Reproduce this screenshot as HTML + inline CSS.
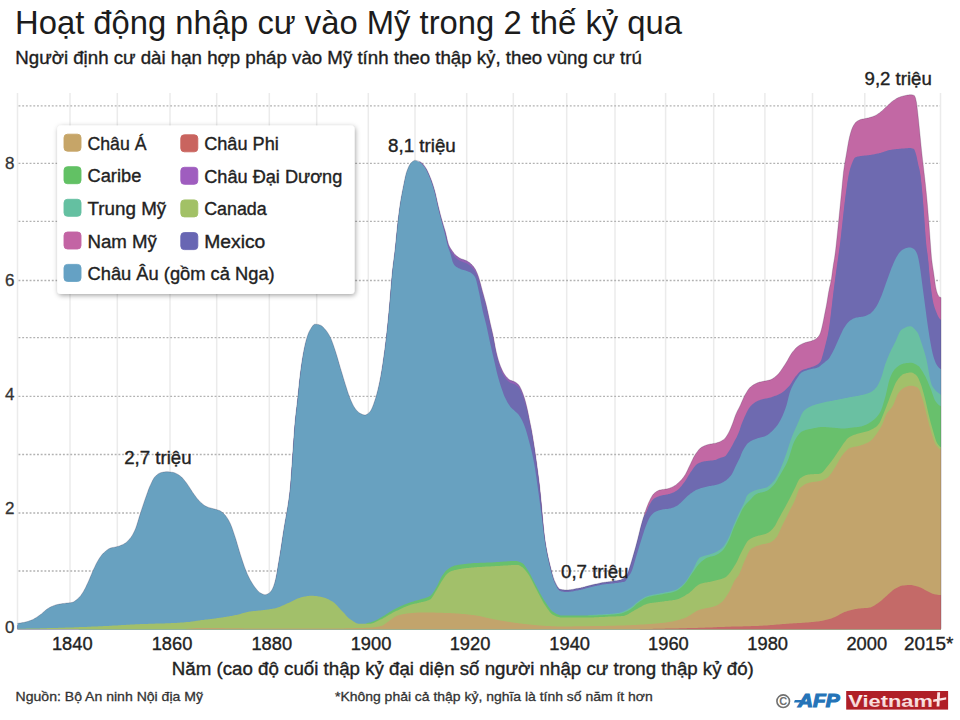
<!DOCTYPE html>
<html lang="vi">
<head>
<meta charset="utf-8">
<title>Hoạt động nhập cư vào Mỹ trong 2 thế kỷ qua</title>
<style>
html,body{margin:0;padding:0;background:#fff;}
body{width:960px;height:720px;overflow:hidden;position:relative;font-family:"Liberation Sans","DejaVu Sans",sans-serif;}
svg{position:absolute;left:0;top:0;display:block;}
svg text{font-family:"Liberation Sans","DejaVu Sans",sans-serif;}
.k{stroke:#222;stroke-width:0.35px;}
.k2{stroke:#333;stroke-width:0.3px;}
</style>
</head>
<body>
<svg width="960" height="720" viewBox="0 0 960 720">
<defs>
<filter id="sh" x="-10%" y="-15%" width="125%" height="135%">
<feDropShadow dx="1" dy="1.5" stdDeviation="2.8" flood-color="#000" flood-opacity="0.36"/>
</filter>
<linearGradient id="vg" x1="0" y1="0" x2="0" y2="1"><stop offset="0" stop-color="#ffffff"/><stop offset="1" stop-color="#f2c4c4"/></linearGradient>
</defs>
<rect width="960" height="720" fill="#fff"/>
<!-- title -->
<text x="15" y="33.8" font-size="33" fill="#1c1c1c" textLength="667" lengthAdjust="spacingAndGlyphs">Hoạt động nhập cư vào Mỹ trong 2 thế kỷ qua</text>
<text class="k" x="15.3" y="64" font-size="18" fill="#1c1c1c" textLength="626.5" lengthAdjust="spacingAndGlyphs">Người định cư dài hạn hợp pháp vào Mỹ tính theo thập kỷ, theo vùng cư trú</text>
<!-- grid -->
<g stroke="#ebebeb" stroke-width="1.5">
<line x1="70" y1="93" x2="70" y2="629"/>
<line x1="117.3" y1="93" x2="117.3" y2="629"/>
<line x1="170" y1="93" x2="170" y2="629"/>
<line x1="216.7" y1="93" x2="216.7" y2="629"/>
<line x1="269.3" y1="93" x2="269.3" y2="629"/>
<line x1="316.7" y1="93" x2="316.7" y2="629"/>
<line x1="368.3" y1="93" x2="368.3" y2="629"/>
<line x1="415" y1="93" x2="415" y2="629"/>
<line x1="466.7" y1="93" x2="466.7" y2="629"/>
<line x1="513.3" y1="93" x2="513.3" y2="629"/>
<line x1="566.7" y1="93" x2="566.7" y2="629"/>
<line x1="615" y1="93" x2="615" y2="629"/>
<line x1="665.6" y1="93" x2="665.6" y2="629"/>
<line x1="713.7" y1="93" x2="713.7" y2="629"/>
<line x1="764.9" y1="93" x2="764.9" y2="629"/>
<line x1="812.5" y1="93" x2="812.5" y2="629"/>
<line x1="864.8" y1="93" x2="864.8" y2="629"/>
<line x1="17.5" y1="93" x2="17.5" y2="629"/>
<line x1="940.5" y1="93" x2="940.5" y2="629"/>
</g>
<g stroke="#b2b2b2" stroke-width="1.3" stroke-dasharray="1.9 1.8">
<line x1="18.5" y1="571" x2="940" y2="571"/>
<line x1="18.5" y1="513" x2="940" y2="513"/>
<line x1="18.5" y1="454.5" x2="940" y2="454.5"/>
<line x1="18.5" y1="396.3" x2="940" y2="396.3"/>
<line x1="18.5" y1="337.6" x2="940" y2="337.6"/>
<line x1="18.5" y1="280.5" x2="940" y2="280.5"/>
<line x1="18.5" y1="221.4" x2="940" y2="221.4"/>
<line x1="18.5" y1="163.3" x2="940" y2="163.3"/>
<line x1="18.5" y1="105.8" x2="940" y2="105.8"/>
</g>
<!-- chart -->
<g>
<path d="M17.5,629.3 L17.5,625.3 18.5,625.2 19.5,625.1 20.5,625.0 21.5,624.8 22.5,624.6 23.5,624.5 24.5,624.3 25.5,624.0 26.5,623.8 27.5,623.5 28.5,623.2 29.5,622.8 30.5,622.5 31.5,622.1 32.5,621.7 33.5,621.2 34.5,620.6 35.5,620.0 36.5,619.4 37.5,618.7 38.5,618.0 39.5,617.3 40.5,616.6 41.5,615.9 42.5,615.0 43.5,614.1 44.5,613.2 45.5,612.3 46.5,611.5 47.5,610.8 48.5,610.2 49.5,609.6 50.5,609.1 51.5,608.6 52.5,608.2 53.5,607.7 54.5,607.4 55.5,607.0 56.5,606.7 57.5,606.5 58.5,606.3 59.5,606.1 60.5,605.9 61.5,605.8 62.5,605.6 63.5,605.5 64.5,605.4 65.5,605.2 66.5,605.1 67.5,605.0 68.5,604.9 69.5,604.8 70.5,604.7 71.5,604.5 72.5,604.3 73.5,603.9 74.5,603.3 75.5,602.6 76.5,601.8 77.5,601.0 78.5,600.1 79.5,599.1 80.5,597.9 81.5,596.5 82.5,595.0 83.5,593.4 84.5,591.6 85.5,589.7 86.5,587.6 87.5,585.4 88.5,583.3 89.5,581.0 90.5,578.6 91.5,576.2 92.5,573.8 93.5,571.6 94.5,569.4 95.5,567.3 96.5,565.2 97.5,563.4 98.5,561.7 99.5,560.1 100.5,558.7 101.5,557.3 102.5,556.1 103.5,555.1 104.5,554.2 105.5,553.3 106.5,552.4 107.5,551.7 108.5,551.0 109.5,550.5 110.5,550.1 111.5,549.8 112.5,549.6 113.5,549.4 114.5,549.2 115.5,549.0 116.5,548.8 117.5,548.5 118.5,548.2 119.5,547.9 120.5,547.5 121.5,547.1 122.5,546.7 123.5,546.2 124.5,545.6 125.5,545.0 126.5,544.2 127.5,543.3 128.5,542.2 129.5,541.1 130.5,539.9 131.5,538.5 132.5,536.9 133.5,535.1 134.5,533.1 135.5,530.8 136.5,528.0 137.5,524.8 138.5,521.4 139.5,518.1 140.5,515.0 141.5,511.9 142.5,508.9 143.5,505.9 144.5,502.9 145.5,500.1 146.5,497.2 147.5,494.4 148.5,491.6 149.5,489.1 150.5,486.9 151.5,484.7 152.5,482.6 153.5,480.8 154.5,479.3 155.5,478.2 156.5,477.2 157.5,476.4 158.5,475.7 159.5,475.2 160.5,474.8 161.5,474.5 162.5,474.3 163.5,474.1 164.5,473.9 165.5,473.8 166.5,473.7 167.5,473.7 168.5,473.8 169.5,473.9 170.5,474.0 171.5,474.2 172.5,474.3 173.5,474.5 174.5,474.8 175.5,475.2 176.5,475.7 177.5,476.2 178.5,476.8 179.5,477.5 180.5,478.2 181.5,479.0 182.5,480.1 183.5,481.2 184.5,482.5 185.5,483.7 186.5,485.0 187.5,486.4 188.5,487.9 189.5,489.4 190.5,491.0 191.5,492.6 192.5,494.2 193.5,495.6 194.5,497.0 195.5,498.3 196.5,499.7 197.5,500.9 198.5,502.1 199.5,503.2 200.5,504.2 201.5,505.1 202.5,505.9 203.5,506.7 204.5,507.5 205.5,508.1 206.5,508.6 207.5,509.0 208.5,509.4 209.5,509.7 210.5,509.9 211.5,510.2 212.5,510.5 213.5,510.8 214.5,511.0 215.5,511.3 216.5,511.6 217.5,511.9 218.5,512.2 219.5,512.6 220.5,513.1 221.5,513.7 222.5,514.5 223.5,515.4 224.5,516.5 225.5,517.6 226.5,518.9 227.5,520.4 228.5,522.1 229.5,524.0 230.5,526.1 231.5,528.5 232.5,531.2 233.5,534.2 234.5,537.2 235.5,540.2 236.5,543.5 237.5,546.9 238.5,550.3 239.5,553.7 240.5,556.9 241.5,560.0 242.5,563.1 243.5,566.1 244.5,569.0 245.5,571.6 246.5,574.1 247.5,576.4 248.5,578.6 249.5,580.6 250.5,582.4 251.5,584.1 252.5,585.8 253.5,587.3 254.5,588.7 255.5,590.0 256.5,591.2 257.5,592.4 258.5,593.4 259.5,594.4 260.5,595.0 261.5,595.6 262.5,596.1 263.5,596.4 264.5,596.7 265.5,596.7 266.5,596.4 267.5,596.0 268.5,595.5 269.5,594.9 270.5,593.8 271.5,592.4 272.5,590.8 273.5,588.5 274.5,585.5 275.5,581.8 276.5,577.0 277.5,571.1 278.5,565.0 279.5,559.2 280.5,553.1 281.5,546.6 282.5,539.8 283.5,533.2 284.5,527.0 285.5,521.2 286.5,515.8 287.5,510.0 288.5,503.6 289.5,496.3 290.5,486.7 291.5,473.3 292.5,459.0 293.5,444.4 294.5,430.0 295.5,419.0 296.5,410.5 297.5,402.0 298.5,392.2 299.5,382.3 300.5,374.0 301.5,366.6 302.5,359.9 303.5,354.2 304.5,349.2 305.5,344.7 306.5,341.0 307.5,337.8 308.5,335.1 309.5,332.9 310.5,331.2 311.5,329.6 312.5,328.1 313.5,326.9 314.5,326.3 315.5,326.2 316.5,326.3 317.5,326.4 318.5,326.6 319.5,326.9 320.5,327.2 321.5,327.8 322.5,328.6 323.5,329.6 324.5,330.7 325.5,331.8 326.5,333.0 327.5,334.4 328.5,336.0 329.5,337.8 330.5,339.7 331.5,342.0 332.5,344.7 333.5,347.6 334.5,350.5 335.5,353.5 336.5,356.7 337.5,360.1 338.5,363.6 339.5,367.0 340.5,370.4 341.5,373.7 342.5,377.1 343.5,380.4 344.5,383.7 345.5,386.9 346.5,390.1 347.5,393.3 348.5,396.3 349.5,399.0 350.5,401.5 351.5,403.8 352.5,406.0 353.5,407.9 354.5,409.6 355.5,411.0 356.5,412.2 357.5,413.3 358.5,414.3 359.5,415.0 360.5,415.6 361.5,416.0 362.5,416.5 363.5,416.8 364.5,417.0 365.5,417.0 366.5,416.6 367.5,416.0 368.5,415.2 369.5,414.2 370.5,413.1 371.5,411.3 372.5,409.1 373.5,406.4 374.5,403.5 375.5,400.5 376.5,397.0 377.5,393.2 378.5,389.0 379.5,384.4 380.5,379.4 381.5,373.7 382.5,367.4 383.5,360.6 384.5,353.4 385.5,345.5 386.5,337.1 387.5,327.8 388.5,317.7 389.5,307.0 390.5,295.0 391.5,282.7 392.5,272.0 393.5,263.7 394.5,256.2 395.5,247.3 396.5,236.9 397.5,227.0 398.5,218.3 399.5,210.5 400.5,203.8 401.5,198.0 402.5,192.7 403.5,187.7 404.5,182.7 405.5,178.1 406.5,174.3 407.5,171.5 408.5,169.1 409.5,167.1 410.5,165.6 411.5,164.6 412.5,163.6 413.5,162.8 414.5,162.4 415.5,162.3 416.5,162.5 417.5,162.7 418.5,163.1 419.5,163.5 420.5,164.0 421.5,164.7 422.5,165.6 423.5,166.8 424.5,168.0 425.5,169.4 426.5,171.1 427.5,173.0 428.5,175.2 429.5,177.5 430.5,179.9 431.5,182.6 432.5,185.4 433.5,188.5 434.5,191.9 435.5,195.7 436.5,200.2 437.5,204.8 438.5,209.0 439.5,213.0 440.5,216.9 441.5,220.6 442.5,224.1 443.5,227.4 444.5,230.7 445.5,234.1 446.5,238.2 447.5,242.7 448.5,246.3 449.5,248.6 450.5,250.3 451.5,251.8 452.5,253.2 453.5,254.6 454.5,255.9 455.5,256.9 456.5,257.8 457.5,258.6 458.5,259.3 459.5,259.9 460.5,260.4 461.5,260.9 462.5,261.2 463.5,261.6 464.5,261.9 465.5,262.3 466.5,262.7 467.5,263.3 468.5,263.9 469.5,264.6 470.5,265.4 471.5,266.3 472.5,267.4 473.5,268.6 474.5,270.0 475.5,271.6 476.5,273.7 477.5,276.1 478.5,278.8 479.5,281.9 480.5,285.5 481.5,289.4 482.5,293.2 483.5,296.8 484.5,300.4 485.5,304.1 486.5,308.0 487.5,312.4 488.5,317.1 489.5,321.7 490.5,326.2 491.5,330.4 492.5,334.7 493.5,339.5 494.5,345.0 495.5,350.5 496.5,355.0 497.5,359.0 498.5,362.5 499.5,365.6 500.5,368.3 501.5,370.6 502.5,372.8 503.5,374.7 504.5,376.3 505.5,377.7 506.5,378.9 507.5,380.0 508.5,380.9 509.5,381.7 510.5,382.3 511.5,382.6 512.5,383.0 513.5,383.3 514.5,383.7 515.5,384.2 516.5,384.9 517.5,385.7 518.5,386.7 519.5,388.0 520.5,389.9 521.5,392.1 522.5,394.5 523.5,397.2 524.5,400.3 525.5,403.8 526.5,407.7 527.5,412.0 528.5,416.8 529.5,421.9 530.5,426.7 531.5,431.7 532.5,437.4 533.5,443.7 534.5,450.1 535.5,456.8 536.5,463.9 537.5,471.5 538.5,479.0 539.5,487.0 540.5,496.5 541.5,507.0 542.5,518.5 543.5,529.0 544.5,538.2 545.5,545.2 546.5,551.1 547.5,556.2 548.5,560.8 549.5,565.0 550.5,569.0 551.5,572.9 552.5,576.6 553.5,579.8 554.5,582.6 555.5,584.7 556.5,586.8 557.5,588.6 558.5,590.1 559.5,591.0 560.5,591.3 561.5,591.5 562.5,591.7 563.5,591.8 564.5,591.9 565.5,592.0 566.5,592.0 567.5,592.0 568.5,591.9 569.5,591.8 570.5,591.7 571.5,591.6 572.5,591.4 573.5,591.2 574.5,591.0 575.5,590.8 576.5,590.6 577.5,590.4 578.5,590.3 579.5,590.1 580.5,589.9 581.5,589.6 582.5,589.4 583.5,589.1 584.5,588.9 585.5,588.6 586.5,588.3 587.5,588.1 588.5,587.8 589.5,587.5 590.5,587.3 591.5,587.0 592.5,586.8 593.5,586.6 594.5,586.3 595.5,586.1 596.5,585.9 597.5,585.7 598.5,585.4 599.5,585.2 600.5,585.0 601.5,584.8 602.5,584.6 603.5,584.5 604.5,584.3 605.5,584.2 606.5,584.0 607.5,583.9 608.5,583.8 609.5,583.7 610.5,583.5 611.5,583.4 612.5,583.2 613.5,583.1 614.5,583.0 615.5,582.8 616.5,582.7 617.5,582.5 618.5,582.3 619.5,582.1 620.5,581.9 621.5,581.5 622.5,581.1 623.5,580.5 624.5,579.8 625.5,579.0 626.5,577.9 627.5,575.9 628.5,573.0 629.5,569.8 630.5,566.7 631.5,563.5 632.5,560.1 633.5,556.6 634.5,553.1 635.5,549.5 636.5,545.8 637.5,542.0 638.5,538.0 639.5,533.9 640.5,529.8 641.5,526.1 642.5,522.6 643.5,519.2 644.5,514.0 645.5,511.0 646.5,508.1 647.5,505.5 648.5,503.0 649.5,500.9 650.5,498.8 651.5,496.9 652.5,495.3 653.5,494.0 654.5,493.1 655.5,492.3 656.5,491.6 657.5,491.0 658.5,490.5 659.5,490.1 660.5,489.9 661.5,489.7 662.5,489.5 663.5,489.4 664.5,489.3 665.5,489.1 666.5,489.0 667.5,488.8 668.5,488.5 669.5,488.2 670.5,487.8 671.5,487.4 672.5,486.9 673.5,486.4 674.5,485.8 675.5,485.2 676.5,484.4 677.5,483.6 678.5,482.7 679.5,481.7 680.5,480.7 681.5,479.7 682.5,478.5 683.5,477.2 684.5,475.8 685.5,474.2 686.5,472.3 687.5,470.3 688.5,468.1 689.5,466.0 690.5,464.0 691.5,461.8 692.5,459.7 693.5,457.6 694.5,455.8 695.5,454.2 696.5,452.8 697.5,451.4 698.5,450.1 699.5,449.0 700.5,448.0 701.5,447.3 702.5,446.8 703.5,446.3 704.5,445.8 705.5,445.4 706.5,445.1 707.5,444.7 708.5,444.5 709.5,444.2 710.5,444.0 711.5,443.9 712.5,443.7 713.5,443.6 714.5,443.4 715.5,443.2 716.5,442.9 717.5,442.6 718.5,442.3 719.5,441.9 720.5,441.4 721.5,440.9 722.5,440.3 723.5,439.7 724.5,438.9 725.5,437.7 726.5,436.3 727.5,434.7 728.5,432.9 729.5,431.0 730.5,428.8 731.5,426.3 732.5,423.8 733.5,421.0 734.5,418.0 735.5,415.2 736.5,412.9 737.5,410.8 738.5,408.9 739.5,407.0 740.5,404.9 741.5,402.6 742.5,400.3 743.5,398.0 744.5,395.9 745.5,394.1 746.5,392.4 747.5,390.7 748.5,389.3 749.5,388.0 750.5,387.0 751.5,386.2 752.5,385.5 753.5,384.8 754.5,384.3 755.5,383.7 756.5,383.3 757.5,382.8 758.5,382.5 759.5,382.1 760.5,381.9 761.5,381.7 762.5,381.5 763.5,381.3 764.5,381.1 765.5,380.9 766.5,380.7 767.5,380.5 768.5,380.3 769.5,380.1 770.5,379.8 771.5,379.3 772.5,378.8 773.5,378.1 774.5,377.4 775.5,376.6 776.5,375.8 777.5,374.8 778.5,373.8 779.5,372.6 780.5,371.2 781.5,369.7 782.5,368.3 783.5,366.8 784.5,365.2 785.5,363.7 786.5,362.1 787.5,360.4 788.5,358.6 789.5,356.8 790.5,355.1 791.5,353.5 792.5,352.1 793.5,350.9 794.5,349.7 795.5,348.6 796.5,347.6 797.5,346.7 798.5,346.0 799.5,345.3 800.5,344.7 801.5,344.2 802.5,343.7 803.5,343.3 804.5,342.9 805.5,342.5 806.5,342.3 807.5,342.0 808.5,341.8 809.5,341.6 810.5,341.3 811.5,341.0 812.5,340.6 813.5,340.2 814.5,339.7 815.5,339.2 816.5,338.5 817.5,337.6 818.5,336.5 819.5,334.9 820.5,332.8 821.5,329.2 822.5,325.0 823.5,320.2 824.5,315.0 825.5,310.1 826.5,305.0 827.5,299.0 828.5,292.8 829.5,287.7 830.5,283.6 831.5,278.5 832.5,270.7 833.5,263.9 834.5,258.3 835.5,251.1 836.5,242.0 837.5,232.4 838.5,222.5 839.5,212.5 840.5,202.5 841.5,192.4 842.5,181.7 843.5,172.0 844.5,164.9 845.5,159.2 846.5,153.5 847.5,147.5 848.5,141.8 849.5,137.1 850.5,133.3 851.5,130.0 852.5,127.5 853.5,125.6 854.5,123.9 855.5,122.6 856.5,121.7 857.5,121.0 858.5,120.5 859.5,120.0 860.5,119.6 861.5,119.3 862.5,119.1 863.5,118.9 864.5,118.7 865.5,118.5 866.5,118.3 867.5,118.1 868.5,117.9 869.5,117.6 870.5,117.3 871.5,117.0 872.5,116.7 873.5,116.3 874.5,115.9 875.5,115.4 876.5,114.9 877.5,114.2 878.5,113.6 879.5,112.9 880.5,112.1 881.5,111.3 882.5,110.4 883.5,109.5 884.5,108.5 885.5,107.6 886.5,106.7 887.5,105.7 888.5,104.8 889.5,103.8 890.5,102.9 891.5,102.0 892.5,101.2 893.5,100.5 894.5,99.9 895.5,99.2 896.5,98.6 897.5,98.1 898.5,97.6 899.5,97.2 900.5,96.8 901.5,96.5 902.5,96.2 903.5,95.9 904.5,95.7 905.5,95.5 906.5,95.3 907.5,95.1 908.5,95.0 909.5,94.8 910.5,94.8 911.5,94.8 912.5,94.9 913.5,95.2 914.5,95.7 915.5,98.1 916.5,102.6 917.5,110.7 918.5,120.0 919.5,130.0 920.5,140.1 921.5,150.2 922.5,159.4 923.5,167.7 924.5,176.3 925.5,185.2 926.5,195.1 927.5,206.1 928.5,218.2 929.5,231.3 930.5,245.1 931.5,258.0 932.5,265.8 933.5,272.1 934.5,279.2 935.5,286.2 936.5,290.9 937.5,294.0 938.5,296.0 939.5,296.9 940.5,297.4 941.0,297.5 L941.0,629.3 Z" fill="#c268a4"/>
<path d="M17.5,629.3 L17.5,625.3 18.5,625.2 19.5,625.1 20.5,625.0 21.5,624.8 22.5,624.6 23.5,624.5 24.5,624.3 25.5,624.0 26.5,623.8 27.5,623.5 28.5,623.2 29.5,622.8 30.5,622.5 31.5,622.1 32.5,621.7 33.5,621.2 34.5,620.6 35.5,620.0 36.5,619.4 37.5,618.7 38.5,618.0 39.5,617.3 40.5,616.6 41.5,615.9 42.5,615.0 43.5,614.1 44.5,613.2 45.5,612.3 46.5,611.5 47.5,610.8 48.5,610.2 49.5,609.6 50.5,609.1 51.5,608.6 52.5,608.2 53.5,607.7 54.5,607.4 55.5,607.0 56.5,606.7 57.5,606.5 58.5,606.3 59.5,606.1 60.5,605.9 61.5,605.8 62.5,605.6 63.5,605.5 64.5,605.4 65.5,605.2 66.5,605.1 67.5,605.0 68.5,604.9 69.5,604.8 70.5,604.7 71.5,604.5 72.5,604.3 73.5,603.9 74.5,603.3 75.5,602.6 76.5,601.8 77.5,601.0 78.5,600.1 79.5,599.1 80.5,597.9 81.5,596.5 82.5,595.0 83.5,593.4 84.5,591.6 85.5,589.7 86.5,587.6 87.5,585.4 88.5,583.3 89.5,581.0 90.5,578.6 91.5,576.2 92.5,573.8 93.5,571.6 94.5,569.4 95.5,567.3 96.5,565.2 97.5,563.4 98.5,561.7 99.5,560.1 100.5,558.7 101.5,557.3 102.5,556.1 103.5,555.1 104.5,554.2 105.5,553.3 106.5,552.4 107.5,551.7 108.5,551.0 109.5,550.5 110.5,550.1 111.5,549.8 112.5,549.6 113.5,549.4 114.5,549.2 115.5,549.0 116.5,548.8 117.5,548.5 118.5,548.2 119.5,547.9 120.5,547.5 121.5,547.1 122.5,546.7 123.5,546.2 124.5,545.6 125.5,545.0 126.5,544.2 127.5,543.3 128.5,542.2 129.5,541.1 130.5,539.9 131.5,538.5 132.5,536.9 133.5,535.1 134.5,533.1 135.5,530.8 136.5,528.0 137.5,524.8 138.5,521.4 139.5,518.1 140.5,515.0 141.5,511.9 142.5,508.9 143.5,505.9 144.5,502.9 145.5,500.1 146.5,497.2 147.5,494.4 148.5,491.6 149.5,489.1 150.5,486.9 151.5,484.7 152.5,482.6 153.5,480.8 154.5,479.3 155.5,478.2 156.5,477.2 157.5,476.4 158.5,475.7 159.5,475.2 160.5,474.8 161.5,474.5 162.5,474.3 163.5,474.1 164.5,473.9 165.5,473.8 166.5,473.7 167.5,473.7 168.5,473.8 169.5,473.9 170.5,474.0 171.5,474.2 172.5,474.3 173.5,474.5 174.5,474.8 175.5,475.2 176.5,475.7 177.5,476.2 178.5,476.8 179.5,477.5 180.5,478.2 181.5,479.0 182.5,480.1 183.5,481.2 184.5,482.5 185.5,483.7 186.5,485.0 187.5,486.4 188.5,487.9 189.5,489.4 190.5,491.0 191.5,492.6 192.5,494.2 193.5,495.6 194.5,497.0 195.5,498.3 196.5,499.7 197.5,500.9 198.5,502.1 199.5,503.2 200.5,504.2 201.5,505.1 202.5,505.9 203.5,506.7 204.5,507.5 205.5,508.1 206.5,508.6 207.5,509.0 208.5,509.4 209.5,509.7 210.5,509.9 211.5,510.2 212.5,510.5 213.5,510.8 214.5,511.0 215.5,511.3 216.5,511.6 217.5,511.9 218.5,512.2 219.5,512.6 220.5,513.1 221.5,513.7 222.5,514.5 223.5,515.4 224.5,516.5 225.5,517.6 226.5,518.9 227.5,520.4 228.5,522.1 229.5,524.0 230.5,526.1 231.5,528.5 232.5,531.2 233.5,534.2 234.5,537.2 235.5,540.2 236.5,543.5 237.5,546.9 238.5,550.3 239.5,553.7 240.5,556.9 241.5,560.0 242.5,563.1 243.5,566.1 244.5,569.0 245.5,571.6 246.5,574.1 247.5,576.4 248.5,578.6 249.5,580.6 250.5,582.4 251.5,584.1 252.5,585.8 253.5,587.3 254.5,588.7 255.5,590.0 256.5,591.2 257.5,592.4 258.5,593.4 259.5,594.4 260.5,595.0 261.5,595.6 262.5,596.1 263.5,596.4 264.5,596.7 265.5,596.7 266.5,596.4 267.5,596.0 268.5,595.5 269.5,594.9 270.5,593.8 271.5,592.4 272.5,590.8 273.5,588.5 274.5,585.5 275.5,581.8 276.5,577.0 277.5,571.1 278.5,565.0 279.5,559.2 280.5,553.1 281.5,546.6 282.5,539.8 283.5,533.2 284.5,527.0 285.5,521.2 286.5,515.8 287.5,510.0 288.5,503.6 289.5,496.3 290.5,486.7 291.5,473.3 292.5,459.0 293.5,444.4 294.5,430.0 295.5,419.0 296.5,410.5 297.5,402.0 298.5,392.2 299.5,382.3 300.5,374.0 301.5,366.6 302.5,359.9 303.5,354.2 304.5,349.2 305.5,344.7 306.5,341.0 307.5,337.8 308.5,335.1 309.5,332.9 310.5,331.2 311.5,329.6 312.5,328.1 313.5,326.9 314.5,326.3 315.5,326.2 316.5,326.3 317.5,326.4 318.5,326.6 319.5,326.9 320.5,327.2 321.5,327.8 322.5,328.6 323.5,329.6 324.5,330.7 325.5,331.8 326.5,333.0 327.5,334.4 328.5,336.0 329.5,337.8 330.5,339.7 331.5,342.0 332.5,344.7 333.5,347.6 334.5,350.5 335.5,353.5 336.5,356.7 337.5,360.1 338.5,363.6 339.5,367.0 340.5,370.4 341.5,373.7 342.5,377.1 343.5,380.4 344.5,383.7 345.5,386.9 346.5,390.1 347.5,393.3 348.5,396.3 349.5,399.0 350.5,401.5 351.5,403.8 352.5,406.0 353.5,407.9 354.5,409.6 355.5,411.0 356.5,412.2 357.5,413.3 358.5,414.3 359.5,415.0 360.5,415.6 361.5,416.0 362.5,416.5 363.5,416.8 364.5,417.0 365.5,417.0 366.5,416.6 367.5,416.0 368.5,415.2 369.5,414.2 370.5,413.1 371.5,411.3 372.5,409.1 373.5,406.4 374.5,403.5 375.5,400.5 376.5,397.0 377.5,393.2 378.5,389.0 379.5,384.4 380.5,379.4 381.5,373.7 382.5,367.4 383.5,360.6 384.5,353.4 385.5,345.5 386.5,337.1 387.5,327.8 388.5,317.7 389.5,307.0 390.5,295.0 391.5,282.7 392.5,272.0 393.5,263.7 394.5,256.2 395.5,247.3 396.5,236.9 397.5,227.0 398.5,218.3 399.5,210.5 400.5,203.8 401.5,198.0 402.5,192.7 403.5,187.7 404.5,182.7 405.5,178.1 406.5,174.3 407.5,171.5 408.5,169.1 409.5,167.1 410.5,165.6 411.5,164.6 412.5,163.6 413.5,162.8 414.5,162.4 415.5,162.3 416.5,162.5 417.5,162.7 418.5,163.1 419.5,161.5 420.5,162.0 421.5,162.7 422.5,163.6 423.5,164.8 424.5,166.0 425.5,167.4 426.5,169.1 427.5,171.0 428.5,173.2 429.5,175.5 430.5,177.9 431.5,180.6 432.5,183.4 433.5,186.5 434.5,189.9 435.5,193.7 436.5,198.2 437.5,202.8 438.5,207.0 439.5,211.0 440.5,214.9 441.5,218.6 442.5,222.1 443.5,225.4 444.5,228.7 445.5,232.1 446.5,236.2 447.5,240.7 448.5,244.3 449.5,246.6 450.5,248.3 451.5,249.8 452.5,251.2 453.5,252.6 454.5,253.9 455.5,254.9 456.5,255.8 457.5,256.6 458.5,257.3 459.5,257.9 460.5,258.4 461.5,258.9 462.5,259.2 463.5,259.6 464.5,259.9 465.5,260.3 466.5,260.7 467.5,261.3 468.5,261.9 469.5,262.6 470.5,263.4 471.5,264.3 472.5,265.4 473.5,266.6 474.5,268.0 475.5,269.6 476.5,271.7 477.5,274.1 478.5,276.8 479.5,279.9 480.5,283.5 481.5,287.4 482.5,291.2 483.5,294.8 484.5,298.4 485.5,302.1 486.5,306.0 487.5,310.4 488.5,315.1 489.5,319.7 490.5,324.2 491.5,328.4 492.5,332.7 493.5,337.5 494.5,343.0 495.5,348.5 496.5,353.0 497.5,357.0 498.5,360.5 499.5,363.6 500.5,366.3 501.5,368.6 502.5,370.8 503.5,372.7 504.5,374.3 505.5,375.7 506.5,376.9 507.5,378.0 508.5,378.9 509.5,379.7 510.5,380.3 511.5,380.6 512.5,381.0 513.5,381.3 514.5,381.7 515.5,382.2 516.5,382.9 517.5,383.7 518.5,384.7 519.5,386.0 520.5,387.9 521.5,390.1 522.5,392.5 523.5,395.2 524.5,398.3 525.5,401.8 526.5,405.7 527.5,410.0 528.5,414.8 529.5,419.9 530.5,424.7 531.5,429.7 532.5,435.4 533.5,441.7 534.5,448.1 535.5,454.8 536.5,461.9 537.5,469.5 538.5,477.0 539.5,485.0 540.5,494.5 541.5,505.0 542.5,516.5 543.5,527.0 544.5,536.2 545.5,543.2 546.5,549.1 547.5,554.2 548.5,558.8 549.5,563.0 550.5,567.0 551.5,570.9 552.5,576.6 553.5,579.8 554.5,582.6 555.5,584.7 556.5,586.8 557.5,588.6 558.5,590.1 559.5,591.0 560.5,591.3 561.5,591.5 562.5,591.7 563.5,591.8 564.5,591.9 565.5,592.0 566.5,592.0 567.5,592.0 568.5,591.9 569.5,591.8 570.5,591.7 571.5,591.6 572.5,591.4 573.5,591.2 574.5,591.0 575.5,590.8 576.5,590.6 577.5,590.4 578.5,590.3 579.5,590.1 580.5,589.9 581.5,589.6 582.5,589.4 583.5,589.1 584.5,588.9 585.5,588.6 586.5,588.3 587.5,588.1 588.5,587.8 589.5,587.5 590.5,587.3 591.5,587.0 592.5,586.8 593.5,586.6 594.5,586.3 595.5,586.1 596.5,585.9 597.5,585.7 598.5,585.4 599.5,585.2 600.5,585.0 601.5,584.8 602.5,584.6 603.5,584.5 604.5,584.3 605.5,584.2 606.5,584.0 607.5,583.9 608.5,583.8 609.5,583.7 610.5,583.5 611.5,583.4 612.5,583.2 613.5,583.1 614.5,583.0 615.5,582.8 616.5,582.7 617.5,582.5 618.5,582.3 619.5,582.1 620.5,581.9 621.5,581.5 622.5,581.1 623.5,580.5 624.5,579.8 625.5,579.0 626.5,577.9 627.5,575.9 628.5,573.0 629.5,569.8 630.5,566.7 631.5,563.5 632.5,560.1 633.5,556.6 634.5,553.1 635.5,549.5 636.5,545.8 637.5,542.0 638.5,538.0 639.5,533.9 640.5,529.8 641.5,526.1 642.5,522.6 643.5,519.2 644.5,517.0 645.5,515.8 646.5,513.6 647.5,511.0 648.5,508.5 649.5,506.6 650.5,504.9 651.5,503.3 652.5,501.9 653.5,500.9 654.5,500.3 655.5,499.7 656.5,499.2 657.5,498.8 658.5,498.4 659.5,498.1 660.5,497.8 661.5,497.5 662.5,497.3 663.5,497.1 664.5,496.9 665.5,496.7 666.5,496.5 667.5,496.4 668.5,496.1 669.5,495.9 670.5,495.6 671.5,495.2 672.5,494.8 673.5,494.4 674.5,493.9 675.5,493.3 676.5,492.7 677.5,492.0 678.5,491.2 679.5,490.2 680.5,489.1 681.5,487.9 682.5,486.6 683.5,485.3 684.5,483.9 685.5,482.5 686.5,481.0 687.5,479.3 688.5,477.6 689.5,475.9 690.5,474.3 691.5,472.9 692.5,471.5 693.5,470.0 694.5,468.7 695.5,467.5 696.5,466.5 697.5,465.8 698.5,465.3 699.5,464.8 700.5,464.4 701.5,464.1 702.5,463.8 703.5,463.6 704.5,463.3 705.5,463.2 706.5,463.0 707.5,462.9 708.5,462.8 709.5,462.7 710.5,462.6 711.5,462.5 712.5,462.4 713.5,462.3 714.5,462.1 715.5,461.9 716.5,461.5 717.5,461.1 718.5,460.6 719.5,460.2 720.5,459.8 721.5,459.5 722.5,459.2 723.5,458.9 724.5,458.5 725.5,457.9 726.5,456.8 727.5,455.3 728.5,453.8 729.5,452.2 730.5,450.5 731.5,448.7 732.5,446.9 733.5,445.0 734.5,443.1 735.5,441.3 736.5,439.4 737.5,437.3 738.5,435.1 739.5,432.4 740.5,429.2 741.5,426.3 742.5,423.8 743.5,421.4 744.5,419.1 745.5,416.9 746.5,414.8 747.5,412.8 748.5,411.0 749.5,409.6 750.5,408.3 751.5,407.2 752.5,406.2 753.5,405.4 754.5,404.7 755.5,404.0 756.5,403.5 757.5,403.0 758.5,402.6 759.5,402.2 760.5,401.8 761.5,401.5 762.5,401.3 763.5,401.1 764.5,400.8 765.5,400.6 766.5,400.4 767.5,400.2 768.5,400.0 769.5,399.8 770.5,399.5 771.5,399.2 772.5,398.8 773.5,398.5 774.5,398.1 775.5,397.8 776.5,397.4 777.5,396.9 778.5,396.5 779.5,396.0 780.5,395.5 781.5,394.9 782.5,394.2 783.5,393.5 784.5,392.7 785.5,391.8 786.5,390.8 787.5,389.8 788.5,388.8 789.5,387.7 790.5,386.3 791.5,384.7 792.5,383.1 793.5,381.4 794.5,379.9 795.5,378.6 796.5,377.4 797.5,376.2 798.5,375.1 799.5,374.1 800.5,373.2 801.5,372.5 802.5,372.0 803.5,371.6 804.5,371.3 805.5,371.0 806.5,370.7 807.5,370.3 808.5,370.0 809.5,369.7 810.5,369.4 811.5,369.1 812.5,368.8 813.5,368.4 814.5,368.0 815.5,367.6 816.5,367.1 817.5,366.6 818.5,365.8 819.5,364.8 820.5,363.4 821.5,361.3 822.5,357.8 823.5,354.2 824.5,350.4 825.5,346.5 826.5,342.6 827.5,338.4 828.5,333.3 829.5,327.0 830.5,319.2 831.5,310.7 832.5,302.0 833.5,293.8 834.5,285.8 835.5,278.3 836.5,271.1 837.5,264.0 838.5,257.0 839.5,249.8 840.5,241.9 841.5,233.0 842.5,224.0 843.5,215.0 844.5,206.1 845.5,198.0 846.5,190.7 847.5,183.8 848.5,177.8 849.5,173.0 850.5,169.4 851.5,166.4 852.5,164.0 853.5,161.7 854.5,159.9 855.5,159.3 856.5,158.9 857.5,158.6 858.5,158.4 859.5,158.3 860.5,158.1 861.5,158.0 862.5,157.8 863.5,157.7 864.5,157.6 865.5,157.5 866.5,157.4 867.5,157.3 868.5,157.2 869.5,157.1 870.5,156.9 871.5,156.8 872.5,156.6 873.5,156.4 874.5,156.2 875.5,156.0 876.5,155.8 877.5,155.6 878.5,155.4 879.5,155.1 880.5,154.9 881.5,154.6 882.5,154.3 883.5,153.9 884.5,153.6 885.5,153.2 886.5,152.9 887.5,152.6 888.5,152.3 889.5,152.1 890.5,151.9 891.5,151.7 892.5,151.6 893.5,151.5 894.5,151.3 895.5,151.2 896.5,151.1 897.5,151.0 898.5,150.9 899.5,150.8 900.5,150.7 901.5,150.6 902.5,150.5 903.5,150.4 904.5,150.4 905.5,150.3 906.5,150.2 907.5,150.2 908.5,150.1 909.5,150.1 910.5,150.1 911.5,150.2 912.5,150.4 913.5,150.7 914.5,151.7 915.5,154.5 916.5,157.9 917.5,163.0 918.5,167.7 919.5,171.5 920.5,177.3 921.5,186.3 922.5,197.0 923.5,209.6 924.5,223.4 925.5,237.9 926.5,249.2 927.5,256.1 928.5,265.1 929.5,276.9 930.5,286.3 931.5,294.3 932.5,301.0 933.5,305.7 934.5,309.2 935.5,312.0 936.5,314.6 937.5,317.1 938.5,319.0 939.5,320.5 940.5,321.6 941.0,322.0 L941.0,629.3 Z" fill="#9362b4"/>
<path d="M17.5,629.3 L17.5,625.3 18.5,625.2 19.5,625.1 20.5,625.0 21.5,624.8 22.5,624.6 23.5,624.5 24.5,624.3 25.5,624.0 26.5,623.8 27.5,623.5 28.5,623.2 29.5,622.8 30.5,622.5 31.5,622.1 32.5,621.7 33.5,621.2 34.5,620.6 35.5,620.0 36.5,619.4 37.5,618.7 38.5,618.0 39.5,617.3 40.5,616.6 41.5,615.9 42.5,615.0 43.5,614.1 44.5,613.2 45.5,612.3 46.5,611.5 47.5,610.8 48.5,610.2 49.5,609.6 50.5,609.1 51.5,608.6 52.5,608.2 53.5,607.7 54.5,607.4 55.5,607.0 56.5,606.7 57.5,606.5 58.5,606.3 59.5,606.1 60.5,605.9 61.5,605.8 62.5,605.6 63.5,605.5 64.5,605.4 65.5,605.2 66.5,605.1 67.5,605.0 68.5,604.9 69.5,604.8 70.5,604.7 71.5,604.5 72.5,604.3 73.5,603.9 74.5,603.3 75.5,602.6 76.5,601.8 77.5,601.0 78.5,600.1 79.5,599.1 80.5,597.9 81.5,596.5 82.5,595.0 83.5,593.4 84.5,591.6 85.5,589.7 86.5,587.6 87.5,585.4 88.5,583.3 89.5,581.0 90.5,578.6 91.5,576.2 92.5,573.8 93.5,571.6 94.5,569.4 95.5,567.3 96.5,565.2 97.5,563.4 98.5,561.7 99.5,560.1 100.5,558.7 101.5,557.3 102.5,556.1 103.5,555.1 104.5,554.2 105.5,553.3 106.5,552.4 107.5,551.7 108.5,551.0 109.5,550.5 110.5,550.1 111.5,549.8 112.5,549.6 113.5,549.4 114.5,549.2 115.5,549.0 116.5,548.8 117.5,548.5 118.5,548.2 119.5,547.9 120.5,547.5 121.5,547.1 122.5,546.7 123.5,546.2 124.5,545.6 125.5,545.0 126.5,544.2 127.5,543.3 128.5,542.2 129.5,541.1 130.5,539.9 131.5,538.5 132.5,536.9 133.5,535.1 134.5,533.1 135.5,530.8 136.5,528.0 137.5,524.8 138.5,521.4 139.5,518.1 140.5,515.0 141.5,511.9 142.5,508.9 143.5,505.9 144.5,502.9 145.5,500.1 146.5,497.2 147.5,494.4 148.5,491.6 149.5,489.1 150.5,486.9 151.5,484.7 152.5,482.6 153.5,480.8 154.5,479.3 155.5,478.2 156.5,477.2 157.5,476.4 158.5,475.7 159.5,475.2 160.5,474.8 161.5,474.5 162.5,474.3 163.5,474.1 164.5,473.9 165.5,473.8 166.5,473.7 167.5,473.7 168.5,473.8 169.5,473.9 170.5,474.0 171.5,474.2 172.5,474.3 173.5,474.5 174.5,474.8 175.5,475.2 176.5,475.7 177.5,476.2 178.5,476.8 179.5,477.5 180.5,478.2 181.5,479.0 182.5,480.1 183.5,481.2 184.5,482.5 185.5,483.7 186.5,485.0 187.5,486.4 188.5,487.9 189.5,489.4 190.5,491.0 191.5,492.6 192.5,494.2 193.5,495.6 194.5,497.0 195.5,498.3 196.5,499.7 197.5,500.9 198.5,502.1 199.5,503.2 200.5,504.2 201.5,505.1 202.5,505.9 203.5,506.7 204.5,507.5 205.5,508.1 206.5,508.6 207.5,509.0 208.5,509.4 209.5,509.7 210.5,509.9 211.5,510.2 212.5,510.5 213.5,510.8 214.5,511.0 215.5,511.3 216.5,511.6 217.5,511.9 218.5,512.2 219.5,512.6 220.5,513.1 221.5,513.7 222.5,514.5 223.5,515.4 224.5,516.5 225.5,517.6 226.5,518.9 227.5,520.4 228.5,522.1 229.5,524.0 230.5,526.1 231.5,528.5 232.5,531.2 233.5,534.2 234.5,537.2 235.5,540.2 236.5,543.5 237.5,546.9 238.5,550.3 239.5,553.7 240.5,556.9 241.5,560.0 242.5,563.1 243.5,566.1 244.5,569.0 245.5,571.6 246.5,574.1 247.5,576.4 248.5,578.6 249.5,580.6 250.5,582.4 251.5,584.1 252.5,585.8 253.5,587.3 254.5,588.7 255.5,590.0 256.5,591.2 257.5,592.4 258.5,593.4 259.5,594.4 260.5,595.0 261.5,595.6 262.5,596.1 263.5,596.4 264.5,596.7 265.5,596.7 266.5,596.4 267.5,596.0 268.5,595.5 269.5,594.9 270.5,593.8 271.5,592.4 272.5,590.8 273.5,588.5 274.5,585.5 275.5,581.8 276.5,577.0 277.5,571.1 278.5,565.0 279.5,559.2 280.5,553.1 281.5,546.6 282.5,539.8 283.5,533.2 284.5,527.0 285.5,521.2 286.5,515.8 287.5,510.0 288.5,503.6 289.5,496.3 290.5,486.7 291.5,473.3 292.5,459.0 293.5,444.4 294.5,430.0 295.5,419.0 296.5,410.5 297.5,402.0 298.5,392.2 299.5,382.3 300.5,374.0 301.5,366.6 302.5,359.9 303.5,354.2 304.5,349.2 305.5,344.7 306.5,341.0 307.5,337.8 308.5,335.1 309.5,332.9 310.5,331.2 311.5,329.6 312.5,328.1 313.5,326.9 314.5,326.3 315.5,326.2 316.5,326.3 317.5,326.4 318.5,326.6 319.5,326.9 320.5,327.2 321.5,327.8 322.5,328.6 323.5,329.6 324.5,330.7 325.5,331.8 326.5,333.0 327.5,334.4 328.5,336.0 329.5,337.8 330.5,339.7 331.5,342.0 332.5,344.7 333.5,347.6 334.5,350.5 335.5,353.5 336.5,356.7 337.5,360.1 338.5,363.6 339.5,367.0 340.5,370.4 341.5,373.7 342.5,377.1 343.5,380.4 344.5,383.7 345.5,386.9 346.5,390.1 347.5,393.3 348.5,396.3 349.5,399.0 350.5,401.5 351.5,403.8 352.5,406.0 353.5,407.9 354.5,409.6 355.5,411.0 356.5,412.2 357.5,413.3 358.5,414.3 359.5,415.0 360.5,415.6 361.5,416.0 362.5,416.5 363.5,416.8 364.5,417.0 365.5,417.0 366.5,416.6 367.5,416.0 368.5,415.2 369.5,414.2 370.5,413.1 371.5,411.3 372.5,409.1 373.5,406.4 374.5,403.5 375.5,400.5 376.5,397.0 377.5,393.2 378.5,389.0 379.5,384.4 380.5,379.4 381.5,373.7 382.5,367.4 383.5,360.6 384.5,353.4 385.5,345.5 386.5,337.1 387.5,327.8 388.5,317.7 389.5,307.0 390.5,295.0 391.5,282.7 392.5,272.0 393.5,263.7 394.5,256.2 395.5,247.3 396.5,236.9 397.5,227.0 398.5,218.3 399.5,210.5 400.5,203.8 401.5,198.0 402.5,192.7 403.5,187.7 404.5,182.7 405.5,178.1 406.5,174.3 407.5,171.5 408.5,169.1 409.5,167.1 410.5,165.6 411.5,164.6 412.5,163.6 413.5,162.9 414.5,162.5 415.5,162.5 416.5,162.7 417.5,163.0 418.5,163.4 419.5,163.9 420.5,164.4 421.5,165.2 422.5,166.2 423.5,167.4 424.5,168.7 425.5,168.1 426.5,169.9 427.5,171.9 428.5,174.1 429.5,176.5 430.5,178.9 431.5,181.6 432.5,184.5 433.5,187.7 434.5,191.1 435.5,194.9 436.5,199.5 437.5,204.2 438.5,208.5 439.5,212.5 440.5,216.4 441.5,220.2 442.5,223.8 443.5,227.1 444.5,230.5 445.5,234.0 446.5,238.1 447.5,242.7 448.5,246.4 449.5,248.8 450.5,250.6 451.5,252.1 452.5,253.6 453.5,255.1 454.5,256.4 455.5,257.5 456.5,258.4 457.5,259.2 458.5,259.9 459.5,260.5 460.5,261.0 461.5,261.5 462.5,261.8 463.5,262.2 464.5,262.5 465.5,262.9 466.5,263.3 467.5,263.9 468.5,264.5 469.5,265.2 470.5,266.0 471.5,266.9 472.5,268.0 473.5,269.2 474.5,270.6 475.5,272.2 476.5,274.3 477.5,276.7 478.5,279.4 479.5,282.5 480.5,286.1 481.5,290.0 482.5,293.9 483.5,297.4 484.5,301.0 485.5,304.7 486.5,308.6 487.5,313.0 488.5,317.7 489.5,322.3 490.5,326.8 491.5,331.0 492.5,335.3 493.5,340.1 494.5,345.6 495.5,351.1 496.5,355.6 497.5,359.6 498.5,363.1 499.5,366.2 500.5,368.9 501.5,371.2 502.5,373.4 503.5,375.3 504.5,376.9 505.5,378.3 506.5,379.5 507.5,380.6 508.5,381.5 509.5,382.3 510.5,382.9 511.5,383.2 512.5,383.6 513.5,383.9 514.5,384.3 515.5,384.8 516.5,385.5 517.5,386.3 518.5,387.3 519.5,388.6 520.5,390.5 521.5,392.7 522.5,395.1 523.5,397.8 524.5,400.9 525.5,404.4 526.5,408.3 527.5,412.6 528.5,417.4 529.5,422.5 530.5,427.3 531.5,432.1 532.5,437.7 533.5,443.9 534.5,450.2 535.5,456.8 536.5,463.8 537.5,471.2 538.5,478.6 539.5,486.5 540.5,495.9 541.5,506.2 542.5,517.6 543.5,528.0 544.5,537.1 545.5,544.0 546.5,549.8 547.5,554.9 548.5,559.4 549.5,563.5 550.5,567.5 551.5,571.4 552.5,575.0 553.5,578.2 554.5,580.9 555.5,583.0 556.5,585.0 557.5,586.7 558.5,588.1 559.5,589.0 560.5,589.3 561.5,589.5 562.5,589.7 563.5,589.8 564.5,589.9 565.5,590.0 566.5,590.0 567.5,590.0 568.5,589.9 569.5,589.8 570.5,589.7 571.5,589.6 572.5,589.4 573.5,589.2 574.5,589.0 575.5,588.8 576.5,588.6 577.5,588.4 578.5,588.3 579.5,588.1 580.5,587.9 581.5,587.6 582.5,587.4 583.5,587.1 584.5,586.9 585.5,586.6 586.5,586.3 587.5,586.1 588.5,585.8 589.5,585.5 590.5,585.3 591.5,585.0 592.5,584.8 593.5,584.6 594.5,584.3 595.5,584.1 596.5,583.9 597.5,583.7 598.5,583.4 599.5,583.2 600.5,583.0 601.5,582.8 602.5,582.6 603.5,582.5 604.5,582.3 605.5,582.2 606.5,582.0 607.5,581.9 608.5,581.8 609.5,581.7 610.5,581.5 611.5,581.4 612.5,581.2 613.5,581.1 614.5,581.0 615.5,580.8 616.5,580.7 617.5,580.5 618.5,580.3 619.5,580.1 620.5,579.9 621.5,579.5 622.5,579.1 623.5,578.5 624.5,577.8 625.5,577.0 626.5,575.9 627.5,573.9 628.5,571.0 629.5,567.8 630.5,564.7 631.5,561.5 632.5,558.1 633.5,554.6 634.5,551.1 635.5,547.5 636.5,543.8 637.5,540.0 638.5,536.0 639.5,531.9 640.5,527.8 641.5,524.1 642.5,520.6 643.5,517.2 644.5,515.0 645.5,513.8 646.5,511.6 647.5,509.0 648.5,506.5 649.5,504.6 650.5,502.9 651.5,501.3 652.5,499.9 653.5,498.9 654.5,498.3 655.5,497.7 656.5,497.2 657.5,496.8 658.5,496.4 659.5,496.1 660.5,495.8 661.5,495.5 662.5,495.3 663.5,495.1 664.5,494.9 665.5,494.7 666.5,494.5 667.5,494.4 668.5,494.1 669.5,493.9 670.5,493.6 671.5,493.2 672.5,492.8 673.5,492.4 674.5,491.9 675.5,491.3 676.5,490.7 677.5,490.0 678.5,489.2 679.5,488.2 680.5,487.1 681.5,485.9 682.5,484.6 683.5,483.3 684.5,481.9 685.5,480.5 686.5,479.0 687.5,477.3 688.5,475.6 689.5,473.9 690.5,472.3 691.5,470.9 692.5,469.5 693.5,468.0 694.5,466.7 695.5,465.5 696.5,464.5 697.5,463.8 698.5,463.3 699.5,462.8 700.5,462.4 701.5,462.1 702.5,461.8 703.5,461.6 704.5,461.3 705.5,461.2 706.5,461.0 707.5,460.9 708.5,460.8 709.5,460.7 710.5,460.6 711.5,460.5 712.5,460.4 713.5,460.3 714.5,460.1 715.5,459.9 716.5,459.5 717.5,459.1 718.5,458.6 719.5,458.2 720.5,457.8 721.5,457.5 722.5,457.2 723.5,456.9 724.5,456.5 725.5,455.9 726.5,454.8 727.5,453.3 728.5,451.8 729.5,450.2 730.5,448.5 731.5,446.7 732.5,444.9 733.5,443.0 734.5,441.1 735.5,439.3 736.5,437.4 737.5,435.3 738.5,433.1 739.5,430.4 740.5,427.2 741.5,424.3 742.5,421.8 743.5,419.4 744.5,417.1 745.5,414.9 746.5,412.8 747.5,410.8 748.5,409.0 749.5,407.6 750.5,406.3 751.5,405.2 752.5,404.2 753.5,403.4 754.5,402.7 755.5,402.0 756.5,401.5 757.5,401.0 758.5,400.6 759.5,400.2 760.5,399.8 761.5,399.5 762.5,399.3 763.5,399.1 764.5,398.8 765.5,398.6 766.5,398.4 767.5,398.2 768.5,398.0 769.5,397.8 770.5,397.5 771.5,397.2 772.5,396.8 773.5,396.5 774.5,396.1 775.5,395.8 776.5,395.4 777.5,394.9 778.5,394.5 779.5,394.0 780.5,393.5 781.5,392.9 782.5,392.2 783.5,391.5 784.5,390.7 785.5,389.8 786.5,388.8 787.5,387.8 788.5,386.8 789.5,385.7 790.5,384.3 791.5,382.7 792.5,381.1 793.5,379.4 794.5,377.9 795.5,376.6 796.5,375.4 797.5,374.2 798.5,373.1 799.5,372.1 800.5,371.2 801.5,370.5 802.5,370.0 803.5,369.6 804.5,369.3 805.5,369.0 806.5,368.7 807.5,368.3 808.5,368.0 809.5,367.7 810.5,367.4 811.5,367.1 812.5,366.8 813.5,366.4 814.5,366.0 815.5,365.6 816.5,365.1 817.5,364.6 818.5,363.8 819.5,362.8 820.5,361.4 821.5,359.3 822.5,355.8 823.5,352.2 824.5,348.4 825.5,344.5 826.5,340.6 827.5,336.4 828.5,331.3 829.5,325.0 830.5,317.2 831.5,308.7 832.5,300.0 833.5,291.8 834.5,283.8 835.5,276.3 836.5,269.1 837.5,262.0 838.5,255.0 839.5,247.8 840.5,239.9 841.5,231.0 842.5,222.0 843.5,213.0 844.5,204.1 845.5,196.0 846.5,188.7 847.5,181.8 848.5,175.8 849.5,171.0 850.5,167.4 851.5,164.4 852.5,162.0 853.5,159.7 854.5,157.9 855.5,157.3 856.5,156.9 857.5,156.6 858.5,156.4 859.5,156.3 860.5,156.1 861.5,156.0 862.5,155.8 863.5,155.7 864.5,155.6 865.5,155.5 866.5,155.4 867.5,155.3 868.5,155.2 869.5,155.1 870.5,154.9 871.5,154.8 872.5,154.6 873.5,154.4 874.5,154.2 875.5,154.0 876.5,153.8 877.5,153.6 878.5,153.4 879.5,153.1 880.5,152.9 881.5,152.6 882.5,152.3 883.5,151.9 884.5,151.6 885.5,151.2 886.5,150.9 887.5,150.6 888.5,150.3 889.5,150.1 890.5,149.9 891.5,149.7 892.5,149.6 893.5,149.5 894.5,149.3 895.5,149.2 896.5,149.1 897.5,149.0 898.5,148.9 899.5,148.8 900.5,148.7 901.5,148.6 902.5,148.5 903.5,148.4 904.5,148.4 905.5,148.3 906.5,148.2 907.5,148.2 908.5,148.1 909.5,148.1 910.5,148.1 911.5,148.2 912.5,148.4 913.5,148.7 914.5,149.7 915.5,152.5 916.5,155.9 917.5,161.0 918.5,165.7 919.5,169.5 920.5,175.3 921.5,184.3 922.5,195.0 923.5,207.6 924.5,221.4 925.5,235.9 926.5,247.2 927.5,254.1 928.5,263.1 929.5,274.9 930.5,284.3 931.5,292.3 932.5,299.0 933.5,303.7 934.5,307.2 935.5,310.0 936.5,312.6 937.5,315.1 938.5,317.0 939.5,318.5 940.5,319.6 941.0,320.0 L941.0,629.3 Z" fill="#6e6ab0"/>
<path d="M17.5,629.3 L17.5,623.3 18.5,623.2 19.5,623.1 20.5,623.0 21.5,622.8 22.5,622.6 23.5,622.5 24.5,622.3 25.5,622.0 26.5,621.8 27.5,621.5 28.5,621.2 29.5,620.8 30.5,620.5 31.5,620.1 32.5,619.7 33.5,619.2 34.5,618.6 35.5,618.0 36.5,617.4 37.5,616.7 38.5,616.0 39.5,615.3 40.5,614.6 41.5,613.9 42.5,613.0 43.5,612.1 44.5,611.2 45.5,610.3 46.5,609.5 47.5,608.8 48.5,608.2 49.5,607.6 50.5,607.1 51.5,606.6 52.5,606.2 53.5,605.7 54.5,605.4 55.5,605.0 56.5,604.7 57.5,604.5 58.5,604.3 59.5,604.1 60.5,603.9 61.5,603.8 62.5,603.6 63.5,603.5 64.5,603.4 65.5,603.2 66.5,603.1 67.5,603.0 68.5,602.9 69.5,602.8 70.5,602.7 71.5,602.5 72.5,602.3 73.5,601.9 74.5,601.3 75.5,600.6 76.5,599.8 77.5,599.0 78.5,598.1 79.5,597.1 80.5,595.9 81.5,594.5 82.5,593.0 83.5,591.4 84.5,589.6 85.5,587.7 86.5,585.6 87.5,583.4 88.5,581.3 89.5,579.0 90.5,576.6 91.5,574.2 92.5,571.8 93.5,569.6 94.5,567.4 95.5,565.3 96.5,563.2 97.5,561.4 98.5,559.7 99.5,558.1 100.5,556.7 101.5,555.3 102.5,554.1 103.5,553.1 104.5,552.2 105.5,551.3 106.5,550.4 107.5,549.7 108.5,549.0 109.5,548.5 110.5,548.1 111.5,547.8 112.5,547.6 113.5,547.4 114.5,547.2 115.5,547.0 116.5,546.8 117.5,546.5 118.5,546.2 119.5,545.9 120.5,545.5 121.5,545.1 122.5,544.7 123.5,544.2 124.5,543.6 125.5,543.0 126.5,542.2 127.5,541.3 128.5,540.2 129.5,539.1 130.5,537.9 131.5,536.5 132.5,534.9 133.5,533.1 134.5,531.1 135.5,528.8 136.5,526.0 137.5,522.8 138.5,519.4 139.5,516.1 140.5,513.0 141.5,509.9 142.5,506.9 143.5,503.9 144.5,500.9 145.5,498.1 146.5,495.2 147.5,492.4 148.5,489.6 149.5,487.1 150.5,484.9 151.5,482.7 152.5,480.6 153.5,478.8 154.5,477.3 155.5,476.2 156.5,475.2 157.5,474.4 158.5,473.7 159.5,473.2 160.5,472.8 161.5,472.5 162.5,472.3 163.5,472.1 164.5,471.9 165.5,471.8 166.5,471.7 167.5,471.7 168.5,471.8 169.5,471.9 170.5,472.0 171.5,472.2 172.5,472.3 173.5,472.5 174.5,472.8 175.5,473.2 176.5,473.7 177.5,474.2 178.5,474.8 179.5,475.5 180.5,476.2 181.5,477.0 182.5,478.1 183.5,479.2 184.5,480.5 185.5,481.7 186.5,483.0 187.5,484.4 188.5,485.9 189.5,487.4 190.5,489.0 191.5,490.6 192.5,492.2 193.5,493.6 194.5,495.0 195.5,496.3 196.5,497.7 197.5,498.9 198.5,500.1 199.5,501.2 200.5,502.2 201.5,503.1 202.5,503.9 203.5,504.7 204.5,505.5 205.5,506.1 206.5,506.6 207.5,507.0 208.5,507.4 209.5,507.7 210.5,507.9 211.5,508.2 212.5,508.5 213.5,508.8 214.5,509.0 215.5,509.3 216.5,509.6 217.5,509.9 218.5,510.2 219.5,510.6 220.5,511.1 221.5,511.7 222.5,512.5 223.5,513.4 224.5,514.5 225.5,515.6 226.5,516.9 227.5,518.4 228.5,520.1 229.5,522.0 230.5,524.1 231.5,526.5 232.5,529.2 233.5,532.2 234.5,535.2 235.5,538.2 236.5,541.5 237.5,544.9 238.5,548.3 239.5,551.7 240.5,554.9 241.5,558.0 242.5,561.1 243.5,564.1 244.5,567.0 245.5,569.6 246.5,572.1 247.5,574.4 248.5,576.6 249.5,578.6 250.5,580.4 251.5,582.1 252.5,583.8 253.5,585.3 254.5,586.7 255.5,588.0 256.5,589.2 257.5,590.4 258.5,591.4 259.5,592.4 260.5,593.0 261.5,593.6 262.5,594.1 263.5,594.4 264.5,594.7 265.5,594.7 266.5,594.4 267.5,594.0 268.5,593.5 269.5,592.9 270.5,591.8 271.5,590.4 272.5,588.8 273.5,586.5 274.5,583.5 275.5,579.8 276.5,575.0 277.5,569.1 278.5,563.0 279.5,557.2 280.5,551.1 281.5,544.6 282.5,537.8 283.5,531.2 284.5,525.0 285.5,519.2 286.5,513.8 287.5,508.0 288.5,501.6 289.5,494.3 290.5,484.7 291.5,471.3 292.5,457.0 293.5,442.4 294.5,428.0 295.5,417.0 296.5,408.5 297.5,400.0 298.5,390.2 299.5,380.3 300.5,372.0 301.5,364.6 302.5,357.9 303.5,352.2 304.5,347.2 305.5,342.7 306.5,339.0 307.5,335.8 308.5,333.1 309.5,330.9 310.5,329.2 311.5,327.6 312.5,326.1 313.5,324.9 314.5,324.3 315.5,324.2 316.5,324.3 317.5,324.4 318.5,324.6 319.5,324.9 320.5,325.2 321.5,325.8 322.5,326.6 323.5,327.6 324.5,328.7 325.5,329.8 326.5,331.0 327.5,332.4 328.5,334.0 329.5,335.8 330.5,337.7 331.5,340.0 332.5,342.7 333.5,345.6 334.5,348.5 335.5,351.5 336.5,354.7 337.5,358.1 338.5,361.6 339.5,365.0 340.5,368.4 341.5,371.7 342.5,375.1 343.5,378.4 344.5,381.7 345.5,384.9 346.5,388.1 347.5,391.3 348.5,394.3 349.5,397.0 350.5,399.5 351.5,401.8 352.5,404.0 353.5,405.9 354.5,407.6 355.5,409.0 356.5,410.2 357.5,411.3 358.5,412.3 359.5,413.0 360.5,413.6 361.5,414.0 362.5,414.5 363.5,414.8 364.5,415.0 365.5,415.0 366.5,414.6 367.5,414.0 368.5,413.2 369.5,412.2 370.5,411.1 371.5,409.3 372.5,407.1 373.5,404.4 374.5,401.5 375.5,398.5 376.5,395.0 377.5,391.2 378.5,387.0 379.5,382.4 380.5,377.4 381.5,371.7 382.5,365.4 383.5,358.6 384.5,351.4 385.5,343.5 386.5,335.1 387.5,325.8 388.5,315.7 389.5,305.0 390.5,293.0 391.5,280.7 392.5,270.0 393.5,261.7 394.5,254.2 395.5,245.3 396.5,234.9 397.5,225.0 398.5,216.3 399.5,208.5 400.5,201.8 401.5,196.0 402.5,190.7 403.5,185.7 404.5,180.7 405.5,176.1 406.5,172.3 407.5,169.5 408.5,167.1 409.5,165.1 410.5,163.6 411.5,162.6 412.5,161.6 413.5,160.9 414.5,160.6 415.5,160.6 416.5,160.8 417.5,161.2 418.5,161.6 419.5,162.1 420.5,162.7 421.5,163.5 422.5,164.5 423.5,165.8 424.5,167.1 425.5,168.6 426.5,170.3 427.5,172.4 428.5,174.6 429.5,177.0 430.5,179.5 431.5,182.2 432.5,185.2 433.5,188.4 434.5,191.8 435.5,195.7 436.5,200.3 437.5,205.0 438.5,209.3 439.5,213.4 440.5,217.3 441.5,220.9 442.5,224.7 443.5,228.5 444.5,232.5 445.5,236.7 446.5,241.1 447.5,245.0 448.5,248.2 449.5,251.1 450.5,254.1 451.5,257.7 452.5,261.4 453.5,263.8 454.5,265.3 455.5,266.2 456.5,267.0 457.5,267.6 458.5,268.2 459.5,268.6 460.5,269.0 461.5,269.4 462.5,269.7 463.5,270.0 464.5,270.3 465.5,270.6 466.5,271.0 467.5,271.3 468.5,271.7 469.5,272.1 470.5,272.6 471.5,273.2 472.5,273.9 473.5,274.9 474.5,276.2 475.5,278.1 476.5,281.3 477.5,285.5 478.5,289.9 479.5,294.5 480.5,299.7 481.5,305.1 482.5,310.0 483.5,314.2 484.5,318.1 485.5,321.9 486.5,326.1 487.5,330.7 488.5,335.5 489.5,340.2 490.5,344.7 491.5,349.1 492.5,353.4 493.5,357.7 494.5,362.1 495.5,366.6 496.5,371.0 497.5,375.0 498.5,378.6 499.5,382.0 500.5,385.2 501.5,388.2 502.5,391.1 503.5,393.9 504.5,396.4 505.5,398.6 506.5,400.6 507.5,402.4 508.5,404.1 509.5,405.6 510.5,406.9 511.5,408.0 512.5,408.9 513.5,409.8 514.5,410.8 515.5,411.7 516.5,412.6 517.5,413.5 518.5,414.6 519.5,415.9 520.5,417.4 521.5,419.2 522.5,421.2 523.5,423.4 524.5,425.9 525.5,428.7 526.5,432.0 527.5,435.6 528.5,439.2 529.5,442.9 530.5,446.7 531.5,450.8 532.5,455.3 533.5,460.2 534.5,465.6 535.5,471.7 536.5,478.6 537.5,485.7 538.5,492.8 539.5,500.0 540.5,507.4 541.5,515.0 542.5,523.0 543.5,530.9 544.5,538.6 545.5,545.0 546.5,550.7 547.5,555.9 548.5,560.6 549.5,565.0 550.5,569.0 551.5,572.8 552.5,576.4 553.5,579.7 554.5,582.4 555.5,584.5 556.5,586.5 557.5,588.4 558.5,589.8 559.5,590.8 560.5,591.1 561.5,591.4 562.5,591.6 563.5,591.8 564.5,591.9 565.5,592.0 566.5,592.0 567.5,592.0 568.5,591.9 569.5,591.8 570.5,591.7 571.5,591.6 572.5,591.4 573.5,591.2 574.5,591.0 575.5,590.8 576.5,590.6 577.5,590.4 578.5,590.3 579.5,590.1 580.5,589.9 581.5,589.6 582.5,589.4 583.5,589.1 584.5,588.9 585.5,588.6 586.5,588.3 587.5,588.1 588.5,587.8 589.5,587.5 590.5,587.3 591.5,587.0 592.5,586.8 593.5,586.6 594.5,586.3 595.5,586.1 596.5,585.9 597.5,585.6 598.5,585.4 599.5,585.2 600.5,585.0 601.5,584.8 602.5,584.6 603.5,584.5 604.5,584.3 605.5,584.2 606.5,584.1 607.5,584.0 608.5,583.9 609.5,583.8 610.5,583.7 611.5,583.6 612.5,583.5 613.5,583.4 614.5,583.3 615.5,583.1 616.5,583.0 617.5,582.9 618.5,582.7 619.5,582.6 620.5,582.4 621.5,582.3 622.5,582.1 623.5,581.9 624.5,581.7 625.5,581.1 626.5,579.7 627.5,577.8 628.5,576.3 629.5,574.9 630.5,573.4 631.5,571.5 632.5,568.9 633.5,565.7 634.5,562.2 635.5,558.7 636.5,555.4 637.5,552.2 638.5,548.9 639.5,545.6 640.5,542.4 641.5,539.2 642.5,536.0 643.5,532.9 644.5,529.8 645.5,527.0 646.5,524.4 647.5,521.9 648.5,519.7 649.5,517.8 650.5,516.3 651.5,515.1 652.5,514.0 653.5,513.0 654.5,512.3 655.5,511.7 656.5,511.3 657.5,510.9 658.5,510.5 659.5,510.2 660.5,509.9 661.5,509.7 662.5,509.5 663.5,509.3 664.5,509.2 665.5,509.1 666.5,509.0 667.5,508.9 668.5,508.7 669.5,508.6 670.5,508.4 671.5,508.1 672.5,507.8 673.5,507.5 674.5,507.1 675.5,506.6 676.5,506.1 677.5,505.5 678.5,504.7 679.5,503.8 680.5,502.9 681.5,501.9 682.5,501.0 683.5,500.1 684.5,499.1 685.5,498.1 686.5,497.1 687.5,496.1 688.5,495.2 689.5,494.4 690.5,493.6 691.5,492.9 692.5,492.2 693.5,491.5 694.5,490.9 695.5,490.3 696.5,489.8 697.5,489.4 698.5,489.0 699.5,488.7 700.5,488.3 701.5,488.0 702.5,487.7 703.5,487.5 704.5,487.2 705.5,487.0 706.5,486.7 707.5,486.5 708.5,486.3 709.5,486.1 710.5,485.9 711.5,485.7 712.5,485.6 713.5,485.4 714.5,485.2 715.5,485.0 716.5,484.8 717.5,484.5 718.5,484.2 719.5,483.8 720.5,483.4 721.5,483.0 722.5,482.5 723.5,481.9 724.5,481.3 725.5,480.7 726.5,479.9 727.5,479.1 728.5,478.2 729.5,477.1 730.5,476.0 731.5,474.7 732.5,473.0 733.5,471.0 734.5,468.8 735.5,466.6 736.5,464.5 737.5,462.6 738.5,460.6 739.5,458.6 740.5,456.3 741.5,453.6 742.5,451.2 743.5,449.4 744.5,447.7 745.5,446.2 746.5,444.8 747.5,443.6 748.5,442.7 749.5,442.0 750.5,441.3 751.5,440.8 752.5,440.3 753.5,439.8 754.5,439.4 755.5,439.0 756.5,438.7 757.5,438.3 758.5,438.1 759.5,437.8 760.5,437.6 761.5,437.3 762.5,437.1 763.5,436.8 764.5,436.4 765.5,436.0 766.5,435.5 767.5,434.9 768.5,434.2 769.5,433.4 770.5,432.6 771.5,431.7 772.5,430.7 773.5,429.7 774.5,428.6 775.5,427.4 776.5,426.2 777.5,424.9 778.5,423.4 779.5,421.8 780.5,420.1 781.5,418.1 782.5,416.0 783.5,413.6 784.5,411.1 785.5,408.3 786.5,405.3 787.5,401.4 788.5,397.3 789.5,393.4 790.5,390.5 791.5,388.1 792.5,385.9 793.5,384.0 794.5,382.3 795.5,380.6 796.5,379.0 797.5,377.4 798.5,375.9 799.5,374.6 800.5,373.5 801.5,372.6 802.5,372.1 803.5,371.6 804.5,371.1 805.5,370.8 806.5,370.4 807.5,370.1 808.5,369.8 809.5,369.5 810.5,369.3 811.5,369.0 812.5,368.8 813.5,368.6 814.5,368.4 815.5,368.2 816.5,367.9 817.5,367.6 818.5,367.2 819.5,366.5 820.5,365.7 821.5,364.8 822.5,364.0 823.5,363.2 824.5,362.4 825.5,361.6 826.5,360.8 827.5,359.9 828.5,358.9 829.5,357.7 830.5,356.1 831.5,354.3 832.5,352.4 833.5,350.4 834.5,348.4 835.5,346.3 836.5,344.0 837.5,341.7 838.5,339.5 839.5,337.3 840.5,335.1 841.5,332.9 842.5,330.8 843.5,328.8 844.5,327.2 845.5,325.7 846.5,324.3 847.5,323.0 848.5,321.9 849.5,321.0 850.5,320.3 851.5,319.7 852.5,319.1 853.5,318.6 854.5,318.2 855.5,317.8 856.5,317.6 857.5,317.4 858.5,317.2 859.5,317.1 860.5,317.0 861.5,316.8 862.5,316.7 863.5,316.5 864.5,316.2 865.5,315.9 866.5,315.5 867.5,315.1 868.5,314.6 869.5,314.0 870.5,313.4 871.5,312.6 872.5,311.6 873.5,310.4 874.5,309.1 875.5,307.7 876.5,306.2 877.5,304.5 878.5,302.5 879.5,300.3 880.5,298.0 881.5,295.7 882.5,293.1 883.5,290.3 884.5,287.5 885.5,284.6 886.5,281.8 887.5,279.0 888.5,276.2 889.5,273.4 890.5,270.7 891.5,268.1 892.5,265.7 893.5,263.3 894.5,261.0 895.5,258.9 896.5,257.1 897.5,255.4 898.5,253.8 899.5,252.5 900.5,251.5 901.5,250.6 902.5,249.8 903.5,249.2 904.5,248.7 905.5,248.3 906.5,248.1 907.5,247.8 908.5,247.6 909.5,247.5 910.5,247.5 911.5,247.8 912.5,248.2 913.5,248.7 914.5,249.4 915.5,250.7 916.5,252.6 917.5,255.0 918.5,258.9 919.5,264.5 920.5,270.8 921.5,278.4 922.5,286.2 923.5,293.8 924.5,301.2 925.5,308.8 926.5,316.4 927.5,323.8 928.5,330.6 929.5,337.1 930.5,342.8 931.5,348.3 932.5,353.1 933.5,356.7 934.5,359.8 935.5,362.4 936.5,364.5 937.5,366.0 938.5,367.2 939.5,368.2 940.5,368.9 941.0,369.0 L941.0,629.3 Z" fill="#68a1c0"/>
<path d="M17.5,629.3 L17.5,629.3 18.5,629.3 19.5,629.3 20.5,629.3 21.5,629.3 22.5,629.3 23.5,629.3 24.5,629.3 25.5,629.3 26.5,629.3 27.5,629.3 28.5,629.3 29.5,629.3 30.5,629.3 31.5,629.3 32.5,629.3 33.5,629.3 34.5,629.3 35.5,629.3 36.5,629.3 37.5,629.3 38.5,629.3 39.5,629.3 40.5,629.3 41.5,629.3 42.5,629.3 43.5,629.3 44.5,629.3 45.5,629.3 46.5,629.3 47.5,629.3 48.5,629.3 49.5,629.3 50.5,629.3 51.5,629.3 52.5,629.3 53.5,629.3 54.5,629.3 55.5,629.3 56.5,629.3 57.5,629.3 58.5,629.3 59.5,629.3 60.5,629.3 61.5,629.3 62.5,629.3 63.5,629.3 64.5,629.3 65.5,629.3 66.5,629.3 67.5,629.3 68.5,629.3 69.5,629.3 70.5,629.3 71.5,629.3 72.5,629.3 73.5,629.3 74.5,629.3 75.5,629.3 76.5,629.2 77.5,629.2 78.5,629.2 79.5,629.1 80.5,629.1 81.5,629.1 82.5,629.0 83.5,629.0 84.5,628.9 85.5,628.9 86.5,628.9 87.5,628.8 88.5,628.8 89.5,628.7 90.5,628.7 91.5,628.6 92.5,628.6 93.5,628.6 94.5,628.5 95.5,628.5 96.5,628.4 97.5,628.4 98.5,628.3 99.5,628.3 100.5,628.3 101.5,628.2 102.5,628.2 103.5,628.1 104.5,628.1 105.5,628.0 106.5,628.0 107.5,627.9 108.5,627.9 109.5,627.8 110.5,627.8 111.5,627.7 112.5,627.6 113.5,627.6 114.5,627.5 115.5,627.5 116.5,627.4 117.5,627.4 118.5,627.3 119.5,627.2 120.5,627.2 121.5,627.1 122.5,627.1 123.5,627.0 124.5,626.9 125.5,626.9 126.5,626.8 127.5,626.8 128.5,626.7 129.5,626.7 130.5,626.6 131.5,626.5 132.5,626.5 133.5,626.4 134.5,626.4 135.5,626.3 136.5,626.3 137.5,626.2 138.5,626.2 139.5,626.2 140.5,626.1 141.5,626.1 142.5,626.0 143.5,626.0 144.5,626.0 145.5,625.9 146.5,625.9 147.5,625.9 148.5,625.8 149.5,625.8 150.5,625.8 151.5,625.7 152.5,625.7 153.5,625.7 154.5,625.7 155.5,625.6 156.5,625.6 157.5,625.6 158.5,625.5 159.5,625.5 160.5,625.5 161.5,625.5 162.5,625.4 163.5,625.4 164.5,625.4 165.5,625.3 166.5,625.3 167.5,625.3 168.5,625.2 169.5,625.2 170.5,625.2 171.5,625.1 172.5,625.1 173.5,625.1 174.5,625.0 175.5,625.0 176.5,624.9 177.5,624.8 178.5,624.8 179.5,624.7 180.5,624.6 181.5,624.6 182.5,624.5 183.5,624.4 184.5,624.3 185.5,624.2 186.5,624.1 187.5,624.1 188.5,624.0 189.5,623.9 190.5,623.7 191.5,623.6 192.5,623.5 193.5,623.3 194.5,623.2 195.5,623.0 196.5,622.8 197.5,622.7 198.5,622.5 199.5,622.4 200.5,622.2 201.5,622.1 202.5,622.0 203.5,621.9 204.5,621.7 205.5,621.6 206.5,621.5 207.5,621.4 208.5,621.3 209.5,621.2 210.5,621.0 211.5,620.9 212.5,620.8 213.5,620.7 214.5,620.5 215.5,620.4 216.5,620.3 217.5,620.1 218.5,620.0 219.5,619.8 220.5,619.7 221.5,619.5 222.5,619.4 223.5,619.2 224.5,619.1 225.5,618.9 226.5,618.7 227.5,618.6 228.5,618.4 229.5,618.2 230.5,618.0 231.5,617.9 232.5,617.7 233.5,617.5 234.5,617.3 235.5,617.1 236.5,616.9 237.5,616.7 238.5,616.5 239.5,616.2 240.5,615.9 241.5,615.6 242.5,615.3 243.5,615.0 244.5,614.8 245.5,614.5 246.5,614.2 247.5,614.0 248.5,613.8 249.5,613.6 250.5,613.4 251.5,613.3 252.5,613.2 253.5,613.1 254.5,613.0 255.5,612.9 256.5,612.8 257.5,612.7 258.5,612.6 259.5,612.5 260.5,612.4 261.5,612.3 262.5,612.2 263.5,612.1 264.5,611.9 265.5,611.8 266.5,611.7 267.5,611.6 268.5,611.4 269.5,611.3 270.5,611.1 271.5,611.0 272.5,610.8 273.5,610.6 274.5,610.4 275.5,610.2 276.5,609.9 277.5,609.6 278.5,609.3 279.5,608.9 280.5,608.5 281.5,608.1 282.5,607.6 283.5,607.2 284.5,606.7 285.5,606.2 286.5,605.8 287.5,605.3 288.5,604.9 289.5,604.5 290.5,604.0 291.5,603.5 292.5,603.1 293.5,602.6 294.5,602.0 295.5,601.6 296.5,601.1 297.5,600.6 298.5,600.2 299.5,599.9 300.5,599.6 301.5,599.3 302.5,599.1 303.5,598.8 304.5,598.6 305.5,598.4 306.5,598.2 307.5,598.0 308.5,597.9 309.5,597.8 310.5,597.8 311.5,597.8 312.5,597.8 313.5,597.8 314.5,597.9 315.5,598.0 316.5,598.1 317.5,598.3 318.5,598.4 319.5,598.6 320.5,598.8 321.5,599.0 322.5,599.2 323.5,599.4 324.5,599.7 325.5,600.0 326.5,600.4 327.5,600.9 328.5,601.3 329.5,601.9 330.5,602.4 331.5,603.0 332.5,603.6 333.5,604.3 334.5,605.1 335.5,606.0 336.5,607.0 337.5,608.1 338.5,609.2 339.5,610.3 340.5,611.4 341.5,612.4 342.5,613.4 343.5,614.5 344.5,615.6 345.5,616.8 346.5,617.9 347.5,618.9 348.5,619.9 349.5,620.7 350.5,621.5 351.5,622.1 352.5,622.8 353.5,623.5 354.5,624.1 355.5,624.7 356.5,625.2 357.5,625.5 358.5,625.7 359.5,625.8 360.5,625.8 361.5,625.8 362.5,625.8 363.5,625.8 364.5,625.6 365.5,625.4 366.5,625.2 367.5,625.0 368.5,624.8 369.5,624.6 370.5,624.4 371.5,624.1 372.5,623.7 373.5,623.3 374.5,622.9 375.5,622.4 376.5,621.9 377.5,621.4 378.5,620.9 379.5,620.3 380.5,619.8 381.5,619.2 382.5,618.6 383.5,618.0 384.5,617.4 385.5,616.7 386.5,616.0 387.5,615.4 388.5,614.7 389.5,614.1 390.5,613.4 391.5,612.9 392.5,612.3 393.5,611.8 394.5,611.2 395.5,610.7 396.5,610.2 397.5,609.7 398.5,609.2 399.5,608.7 400.5,608.3 401.5,607.8 402.5,607.4 403.5,607.0 404.5,606.6 405.5,606.2 406.5,605.8 407.5,605.4 408.5,605.0 409.5,604.7 410.5,604.3 411.5,604.0 412.5,603.7 413.5,603.4 414.5,603.1 415.5,602.8 416.5,602.6 417.5,602.3 418.5,602.0 419.5,601.7 420.5,601.3 421.5,601.0 422.5,600.8 423.5,600.5 424.5,600.2 425.5,599.9 426.5,599.6 427.5,599.2 428.5,598.8 429.5,598.3 430.5,597.7 431.5,596.7 432.5,595.5 433.5,594.0 434.5,592.4 435.5,590.8 436.5,589.1 437.5,587.2 438.5,585.0 439.5,582.8 440.5,580.7 441.5,578.8 442.5,577.3 443.5,575.9 444.5,574.5 445.5,573.3 446.5,572.3 447.5,571.4 448.5,570.7 449.5,570.0 450.5,569.4 451.5,568.8 452.5,568.4 453.5,568.0 454.5,567.6 455.5,567.4 456.5,567.2 457.5,567.0 458.5,566.8 459.5,566.7 460.5,566.5 461.5,566.4 462.5,566.3 463.5,566.2 464.5,566.1 465.5,565.9 466.5,565.8 467.5,565.7 468.5,565.6 469.5,565.5 470.5,565.4 471.5,565.3 472.5,565.2 473.5,565.1 474.5,565.0 475.5,565.0 476.5,564.9 477.5,564.9 478.5,564.9 479.5,564.8 480.5,564.8 481.5,564.8 482.5,564.7 483.5,564.7 484.5,564.7 485.5,564.7 486.5,564.6 487.5,564.6 488.5,564.6 489.5,564.5 490.5,564.5 491.5,564.4 492.5,564.4 493.5,564.3 494.5,564.2 495.5,564.2 496.5,564.1 497.5,564.0 498.5,563.9 499.5,563.9 500.5,563.8 501.5,563.7 502.5,563.7 503.5,563.6 504.5,563.5 505.5,563.5 506.5,563.4 507.5,563.3 508.5,563.3 509.5,563.2 510.5,563.1 511.5,563.1 512.5,563.1 513.5,563.0 514.5,563.0 515.5,563.0 516.5,563.1 517.5,563.3 518.5,563.6 519.5,563.9 520.5,564.3 521.5,564.8 522.5,565.3 523.5,566.1 524.5,567.3 525.5,568.7 526.5,570.2 527.5,571.8 528.5,573.3 529.5,574.9 530.5,576.8 531.5,578.7 532.5,580.7 533.5,582.7 534.5,584.7 535.5,586.7 536.5,588.6 537.5,590.5 538.5,592.3 539.5,594.2 540.5,596.0 541.5,597.8 542.5,599.5 543.5,601.2 544.5,602.8 545.5,604.2 546.5,605.7 547.5,607.3 548.5,608.7 549.5,610.1 550.5,611.4 551.5,612.5 552.5,613.4 553.5,614.1 554.5,614.7 555.5,615.3 556.5,615.9 557.5,616.3 558.5,616.8 559.5,617.1 560.5,617.4 561.5,617.5 562.5,617.5 563.5,617.5 564.5,617.5 565.5,617.5 566.5,617.5 567.5,617.5 568.5,617.5 569.5,617.5 570.5,617.5 571.5,617.5 572.5,617.5 573.5,617.5 574.5,617.5 575.5,617.5 576.5,617.5 577.5,617.5 578.5,617.5 579.5,617.5 580.5,617.5 581.5,617.4 582.5,617.4 583.5,617.3 584.5,617.3 585.5,617.2 586.5,617.2 587.5,617.1 588.5,615.1 589.5,615.0 590.5,615.0 591.5,614.9 592.5,614.9 593.5,614.8 594.5,614.8 595.5,614.7 596.5,614.7 597.5,614.6 598.5,614.6 599.5,614.5 600.5,614.5 601.5,614.4 602.5,614.4 603.5,614.3 604.5,614.3 605.5,614.2 606.5,614.1 607.5,614.1 608.5,614.0 609.5,613.9 610.5,613.8 611.5,613.8 612.5,613.7 613.5,613.6 614.5,613.5 615.5,613.3 616.5,613.2 617.5,613.1 618.5,613.0 619.5,612.8 620.5,612.5 621.5,612.2 622.5,611.8 623.5,611.4 624.5,611.0 625.5,610.5 626.5,609.9 627.5,609.4 628.5,608.8 629.5,608.3 630.5,607.7 631.5,607.0 632.5,606.2 633.5,605.4 634.5,604.5 635.5,603.6 636.5,602.7 637.5,601.9 638.5,601.2 639.5,600.5 640.5,599.8 641.5,599.2 642.5,598.5 643.5,597.9 644.5,597.3 645.5,596.8 646.5,596.4 647.5,596.0 648.5,595.7 649.5,595.4 650.5,595.2 651.5,595.0 652.5,594.7 653.5,594.5 654.5,594.4 655.5,594.2 656.5,594.0 657.5,593.8 658.5,593.7 659.5,593.5 660.5,593.3 661.5,593.1 662.5,592.9 663.5,592.7 664.5,592.5 665.5,592.3 666.5,592.1 667.5,591.9 668.5,591.8 669.5,591.6 670.5,591.3 671.5,591.1 672.5,590.8 673.5,590.6 674.5,590.2 675.5,589.9 676.5,589.4 677.5,588.9 678.5,588.2 679.5,587.5 680.5,586.7 681.5,585.9 682.5,584.9 683.5,584.0 684.5,583.0 685.5,581.8 686.5,580.5 687.5,579.0 688.5,577.4 689.5,575.8 690.5,574.2 691.5,572.6 692.5,570.8 693.5,568.7 694.5,566.6 695.5,564.4 696.5,562.3 697.5,560.5 698.5,558.9 699.5,557.8 700.5,557.2 701.5,556.8 702.5,556.4 703.5,556.1 704.5,555.8 705.5,555.6 706.5,555.3 707.5,555.0 708.5,554.7 709.5,554.4 710.5,554.1 711.5,553.8 712.5,553.5 713.5,553.1 714.5,552.7 715.5,552.3 716.5,551.8 717.5,551.2 718.5,550.6 719.5,550.0 720.5,549.2 721.5,548.4 722.5,547.5 723.5,546.4 724.5,545.1 725.5,543.5 726.5,541.8 727.5,539.9 728.5,538.0 729.5,535.9 730.5,533.5 731.5,530.8 732.5,528.2 733.5,525.6 734.5,523.2 735.5,520.9 736.5,518.7 737.5,516.4 738.5,514.3 739.5,512.2 740.5,510.2 741.5,508.3 742.5,506.3 743.5,504.3 744.5,501.9 745.5,499.2 746.5,496.6 747.5,495.0 748.5,494.1 749.5,493.3 750.5,492.6 751.5,492.0 752.5,491.5 753.5,491.0 754.5,490.6 755.5,490.3 756.5,489.9 757.5,489.6 758.5,489.4 759.5,489.1 760.5,488.9 761.5,488.8 762.5,488.6 763.5,488.3 764.5,488.1 765.5,487.8 766.5,487.4 767.5,486.9 768.5,486.3 769.5,485.5 770.5,484.6 771.5,483.7 772.5,482.6 773.5,481.5 774.5,480.3 775.5,478.8 776.5,477.1 777.5,475.2 778.5,473.2 779.5,471.1 780.5,468.9 781.5,466.6 782.5,464.0 783.5,461.4 784.5,458.6 785.5,455.8 786.5,453.0 787.5,450.1 788.5,446.9 789.5,443.8 790.5,440.8 791.5,438.1 792.5,435.5 793.5,433.1 794.5,430.7 795.5,428.5 796.5,426.2 797.5,424.0 798.5,421.7 799.5,419.2 800.5,416.8 801.5,414.6 802.5,412.7 803.5,411.3 804.5,410.3 805.5,409.4 806.5,408.7 807.5,408.0 808.5,407.4 809.5,406.9 810.5,406.4 811.5,406.0 812.5,405.6 813.5,405.2 814.5,404.9 815.5,404.5 816.5,404.2 817.5,404.0 818.5,403.7 819.5,403.4 820.5,403.2 821.5,402.9 822.5,402.7 823.5,402.5 824.5,402.3 825.5,402.0 826.5,401.8 827.5,401.6 828.5,401.5 829.5,401.3 830.5,401.1 831.5,400.9 832.5,400.7 833.5,400.5 834.5,400.3 835.5,400.1 836.5,399.9 837.5,399.7 838.5,399.5 839.5,399.3 840.5,399.1 841.5,398.9 842.5,398.7 843.5,398.5 844.5,398.3 845.5,398.1 846.5,397.9 847.5,397.7 848.5,397.5 849.5,397.3 850.5,397.1 851.5,396.9 852.5,396.7 853.5,396.5 854.5,396.4 855.5,396.2 856.5,396.0 857.5,395.9 858.5,395.7 859.5,395.5 860.5,395.3 861.5,395.1 862.5,394.9 863.5,394.6 864.5,394.4 865.5,394.1 866.5,393.8 867.5,393.5 868.5,393.1 869.5,392.7 870.5,392.3 871.5,391.7 872.5,391.0 873.5,390.3 874.5,389.4 875.5,388.3 876.5,387.2 877.5,385.7 878.5,383.9 879.5,381.7 880.5,379.4 881.5,376.8 882.5,373.7 883.5,370.0 884.5,366.5 885.5,363.6 886.5,360.9 887.5,358.3 888.5,355.9 889.5,353.6 890.5,351.4 891.5,349.3 892.5,347.4 893.5,345.4 894.5,343.5 895.5,341.5 896.5,339.2 897.5,336.7 898.5,334.4 899.5,332.3 900.5,330.8 901.5,329.8 902.5,329.1 903.5,328.5 904.5,327.9 905.5,327.4 906.5,327.0 907.5,326.6 908.5,326.4 909.5,326.3 910.5,326.3 911.5,326.6 912.5,327.1 913.5,327.9 914.5,328.9 915.5,330.0 916.5,331.2 917.5,332.5 918.5,334.3 919.5,337.0 920.5,340.0 921.5,343.0 922.5,345.9 923.5,349.0 924.5,352.2 925.5,355.7 926.5,359.7 927.5,364.7 928.5,370.5 929.5,376.2 930.5,381.1 931.5,384.6 932.5,386.5 933.5,388.0 934.5,389.3 935.5,390.4 936.5,391.4 937.5,392.3 938.5,393.1 939.5,393.8 940.5,394.4 941.0,394.7 L941.0,629.3 Z" fill="#6ac0a2"/>
<path d="M17.5,629.3 L17.5,629.3 18.5,629.3 19.5,629.3 20.5,629.3 21.5,629.3 22.5,629.3 23.5,629.3 24.5,629.3 25.5,629.3 26.5,629.3 27.5,629.3 28.5,629.3 29.5,629.3 30.5,629.3 31.5,629.3 32.5,629.3 33.5,629.3 34.5,629.3 35.5,629.3 36.5,629.3 37.5,629.3 38.5,629.3 39.5,629.3 40.5,629.3 41.5,629.3 42.5,629.3 43.5,629.3 44.5,629.3 45.5,629.3 46.5,629.3 47.5,629.3 48.5,629.3 49.5,629.3 50.5,629.3 51.5,629.3 52.5,629.3 53.5,629.3 54.5,629.3 55.5,629.3 56.5,629.3 57.5,629.3 58.5,629.3 59.5,629.3 60.5,629.3 61.5,629.3 62.5,629.3 63.5,629.3 64.5,629.3 65.5,629.3 66.5,629.3 67.5,629.3 68.5,629.3 69.5,629.3 70.5,629.3 71.5,629.3 72.5,629.3 73.5,629.3 74.5,629.3 75.5,629.3 76.5,629.2 77.5,629.2 78.5,629.2 79.5,629.1 80.5,629.1 81.5,629.1 82.5,629.0 83.5,629.0 84.5,628.9 85.5,628.9 86.5,628.9 87.5,628.8 88.5,628.8 89.5,628.7 90.5,628.7 91.5,628.6 92.5,628.6 93.5,628.6 94.5,628.5 95.5,628.5 96.5,628.4 97.5,628.4 98.5,628.3 99.5,628.3 100.5,628.3 101.5,628.2 102.5,628.2 103.5,628.1 104.5,628.1 105.5,628.0 106.5,628.0 107.5,627.9 108.5,627.9 109.5,627.8 110.5,627.8 111.5,627.7 112.5,627.6 113.5,627.6 114.5,627.5 115.5,627.5 116.5,627.4 117.5,627.4 118.5,627.3 119.5,627.2 120.5,627.2 121.5,627.1 122.5,627.1 123.5,627.0 124.5,626.9 125.5,626.9 126.5,626.8 127.5,626.8 128.5,626.7 129.5,626.7 130.5,626.6 131.5,626.5 132.5,626.5 133.5,626.4 134.5,626.4 135.5,626.3 136.5,626.3 137.5,626.2 138.5,626.2 139.5,626.2 140.5,626.1 141.5,626.1 142.5,626.0 143.5,626.0 144.5,626.0 145.5,625.9 146.5,625.9 147.5,625.9 148.5,625.8 149.5,625.8 150.5,625.8 151.5,625.7 152.5,625.7 153.5,625.7 154.5,625.7 155.5,625.6 156.5,625.6 157.5,625.6 158.5,625.5 159.5,625.5 160.5,625.5 161.5,625.5 162.5,625.4 163.5,625.4 164.5,625.4 165.5,625.3 166.5,625.3 167.5,625.3 168.5,625.2 169.5,625.2 170.5,625.2 171.5,625.1 172.5,625.1 173.5,625.1 174.5,625.0 175.5,625.0 176.5,624.9 177.5,624.8 178.5,624.8 179.5,624.7 180.5,624.6 181.5,624.6 182.5,624.5 183.5,624.4 184.5,624.3 185.5,624.2 186.5,624.1 187.5,624.1 188.5,624.0 189.5,623.9 190.5,623.7 191.5,623.6 192.5,623.5 193.5,623.3 194.5,623.2 195.5,623.0 196.5,622.8 197.5,622.7 198.5,622.5 199.5,622.4 200.5,622.2 201.5,622.1 202.5,622.0 203.5,621.9 204.5,621.7 205.5,621.6 206.5,621.5 207.5,621.4 208.5,621.3 209.5,621.2 210.5,621.0 211.5,620.9 212.5,620.8 213.5,620.7 214.5,620.5 215.5,620.4 216.5,620.3 217.5,620.1 218.5,620.0 219.5,619.8 220.5,619.7 221.5,619.5 222.5,619.4 223.5,619.2 224.5,619.1 225.5,618.9 226.5,618.7 227.5,618.6 228.5,618.4 229.5,618.2 230.5,618.0 231.5,617.9 232.5,617.7 233.5,617.5 234.5,617.3 235.5,617.1 236.5,616.9 237.5,616.7 238.5,616.5 239.5,616.2 240.5,615.9 241.5,615.6 242.5,615.3 243.5,615.0 244.5,614.8 245.5,614.5 246.5,614.2 247.5,614.0 248.5,613.8 249.5,613.6 250.5,613.4 251.5,613.3 252.5,613.2 253.5,613.1 254.5,613.0 255.5,612.9 256.5,612.8 257.5,612.7 258.5,612.6 259.5,612.5 260.5,612.4 261.5,612.3 262.5,612.2 263.5,612.1 264.5,611.9 265.5,611.8 266.5,611.7 267.5,611.6 268.5,611.4 269.5,611.3 270.5,611.1 271.5,611.0 272.5,610.8 273.5,610.6 274.5,610.4 275.5,610.2 276.5,609.9 277.5,609.6 278.5,609.3 279.5,608.9 280.5,608.5 281.5,608.1 282.5,607.6 283.5,607.2 284.5,606.7 285.5,606.2 286.5,605.8 287.5,605.3 288.5,604.9 289.5,604.5 290.5,604.0 291.5,603.5 292.5,603.1 293.5,602.6 294.5,602.0 295.5,601.6 296.5,601.1 297.5,600.6 298.5,600.2 299.5,599.9 300.5,599.6 301.5,599.3 302.5,599.1 303.5,598.8 304.5,598.6 305.5,598.4 306.5,598.2 307.5,598.0 308.5,597.9 309.5,597.8 310.5,597.8 311.5,597.8 312.5,597.8 313.5,597.8 314.5,597.9 315.5,598.0 316.5,598.1 317.5,598.3 318.5,598.4 319.5,598.6 320.5,598.8 321.5,599.0 322.5,599.2 323.5,599.4 324.5,599.7 325.5,600.0 326.5,600.4 327.5,600.9 328.5,601.3 329.5,601.9 330.5,602.4 331.5,603.0 332.5,603.6 333.5,604.3 334.5,605.1 335.5,606.0 336.5,607.0 337.5,608.1 338.5,609.2 339.5,610.3 340.5,611.4 341.5,612.4 342.5,613.4 343.5,614.5 344.5,615.6 345.5,616.8 346.5,617.9 347.5,618.9 348.5,619.9 349.5,620.7 350.5,621.5 351.5,622.1 352.5,622.8 353.5,623.5 354.5,624.1 355.5,624.7 356.5,625.2 357.5,625.5 358.5,625.7 359.5,625.8 360.5,625.8 361.5,625.8 362.5,625.8 363.5,625.8 364.5,625.6 365.5,625.4 366.5,623.2 367.5,623.0 368.5,622.8 369.5,622.6 370.5,622.4 371.5,622.1 372.5,621.7 373.5,621.3 374.5,620.9 375.5,620.4 376.5,619.9 377.5,619.4 378.5,618.9 379.5,618.3 380.5,617.8 381.5,617.2 382.5,616.6 383.5,616.0 384.5,615.4 385.5,614.7 386.5,614.0 387.5,613.4 388.5,612.7 389.5,612.1 390.5,611.4 391.5,610.9 392.5,610.3 393.5,609.8 394.5,609.2 395.5,608.7 396.5,608.2 397.5,607.7 398.5,607.2 399.5,606.7 400.5,606.3 401.5,605.8 402.5,605.4 403.5,605.0 404.5,604.6 405.5,604.2 406.5,603.8 407.5,603.4 408.5,603.0 409.5,602.7 410.5,602.3 411.5,602.0 412.5,601.7 413.5,601.4 414.5,601.1 415.5,600.8 416.5,600.6 417.5,600.3 418.5,600.0 419.5,599.7 420.5,599.3 421.5,599.0 422.5,598.8 423.5,598.5 424.5,598.2 425.5,597.9 426.5,597.6 427.5,597.2 428.5,596.8 429.5,596.3 430.5,595.7 431.5,594.7 432.5,593.5 433.5,592.0 434.5,590.4 435.5,588.8 436.5,587.1 437.5,585.2 438.5,583.0 439.5,580.8 440.5,578.7 441.5,576.8 442.5,575.3 443.5,573.9 444.5,572.5 445.5,571.3 446.5,570.3 447.5,569.4 448.5,568.7 449.5,568.0 450.5,567.4 451.5,566.8 452.5,566.4 453.5,566.0 454.5,565.6 455.5,565.4 456.5,565.2 457.5,565.0 458.5,564.8 459.5,564.7 460.5,564.5 461.5,564.4 462.5,564.3 463.5,564.2 464.5,564.1 465.5,563.9 466.5,563.8 467.5,563.7 468.5,563.6 469.5,563.5 470.5,563.4 471.5,563.3 472.5,563.2 473.5,563.1 474.5,563.0 475.5,563.0 476.5,562.9 477.5,562.9 478.5,562.9 479.5,562.8 480.5,562.8 481.5,562.8 482.5,562.7 483.5,562.7 484.5,562.7 485.5,562.7 486.5,562.6 487.5,562.6 488.5,562.6 489.5,562.5 490.5,562.5 491.5,562.4 492.5,562.4 493.5,562.3 494.5,562.2 495.5,562.2 496.5,562.1 497.5,562.0 498.5,561.9 499.5,561.9 500.5,561.8 501.5,561.7 502.5,561.7 503.5,561.6 504.5,561.5 505.5,561.5 506.5,561.4 507.5,561.3 508.5,561.3 509.5,561.2 510.5,561.1 511.5,561.1 512.5,561.1 513.5,561.0 514.5,561.0 515.5,561.0 516.5,561.1 517.5,561.3 518.5,561.6 519.5,561.9 520.5,562.3 521.5,562.8 522.5,563.3 523.5,564.1 524.5,565.3 525.5,566.7 526.5,568.2 527.5,569.8 528.5,571.3 529.5,572.9 530.5,574.8 531.5,576.7 532.5,578.7 533.5,580.7 534.5,582.7 535.5,584.7 536.5,586.6 537.5,588.5 538.5,590.3 539.5,592.2 540.5,594.0 541.5,595.8 542.5,597.5 543.5,599.2 544.5,600.8 545.5,602.2 546.5,603.7 547.5,605.3 548.5,606.7 549.5,608.1 550.5,609.4 551.5,610.5 552.5,611.4 553.5,612.1 554.5,612.7 555.5,613.3 556.5,613.9 557.5,614.3 558.5,614.8 559.5,615.1 560.5,615.4 561.5,615.5 562.5,615.5 563.5,615.5 564.5,615.5 565.5,615.5 566.5,615.5 567.5,615.5 568.5,615.5 569.5,615.5 570.5,615.5 571.5,615.5 572.5,615.5 573.5,615.5 574.5,615.5 575.5,615.5 576.5,615.5 577.5,615.5 578.5,615.5 579.5,615.5 580.5,615.5 581.5,615.5 582.5,615.5 583.5,615.5 584.5,615.5 585.5,615.5 586.5,615.5 587.5,615.5 588.5,615.5 589.5,615.5 590.5,615.5 591.5,615.5 592.5,615.5 593.5,615.5 594.5,615.4 595.5,615.4 596.5,615.4 597.5,615.4 598.5,615.3 599.5,615.3 600.5,615.3 601.5,615.2 602.5,615.2 603.5,615.1 604.5,615.1 605.5,615.0 606.5,615.0 607.5,614.9 608.5,614.8 609.5,614.8 610.5,614.7 611.5,614.6 612.5,614.5 613.5,614.4 614.5,614.4 615.5,614.3 616.5,614.2 617.5,614.1 618.5,614.0 619.5,613.8 620.5,613.6 621.5,613.4 622.5,613.0 623.5,612.7 624.5,612.3 625.5,611.8 626.5,611.4 627.5,610.9 628.5,610.4 629.5,609.9 630.5,609.3 631.5,608.6 632.5,607.8 633.5,606.9 634.5,606.0 635.5,605.1 636.5,604.1 637.5,603.3 638.5,602.5 639.5,601.8 640.5,601.1 641.5,600.4 642.5,599.7 643.5,599.1 644.5,598.5 645.5,598.0 646.5,597.6 647.5,597.2 648.5,596.9 649.5,596.6 650.5,596.4 651.5,596.2 652.5,596.0 653.5,595.8 654.5,595.6 655.5,595.4 656.5,595.3 657.5,595.1 658.5,594.9 659.5,594.8 660.5,594.6 661.5,594.4 662.5,594.2 663.5,594.0 664.5,593.8 665.5,593.6 666.5,593.5 667.5,593.3 668.5,593.1 669.5,592.9 670.5,592.7 671.5,592.5 672.5,592.2 673.5,591.9 674.5,591.6 675.5,591.3 676.5,590.8 677.5,590.3 678.5,589.6 679.5,588.9 680.5,588.1 681.5,587.2 682.5,586.3 683.5,585.3 684.5,584.3 685.5,583.1 686.5,581.7 687.5,580.2 688.5,578.7 689.5,577.2 690.5,575.7 691.5,574.3 692.5,572.8 693.5,571.4 694.5,569.9 695.5,568.4 696.5,567.0 697.5,565.7 698.5,564.5 699.5,563.4 700.5,562.4 701.5,561.5 702.5,560.7 703.5,559.9 704.5,559.2 705.5,558.5 706.5,557.9 707.5,557.5 708.5,557.2 709.5,556.9 710.5,556.6 711.5,556.4 712.5,556.2 713.5,556.0 714.5,555.7 715.5,555.3 716.5,554.8 717.5,554.3 718.5,553.7 719.5,553.0 720.5,552.3 721.5,551.4 722.5,550.5 723.5,549.4 724.5,548.1 725.5,546.5 726.5,544.8 727.5,542.9 728.5,541.0 729.5,538.9 730.5,536.5 731.5,533.8 732.5,531.1 733.5,528.6 734.5,526.3 735.5,524.0 736.5,521.8 737.5,519.6 738.5,517.5 739.5,515.4 740.5,513.2 741.5,511.1 742.5,509.1 743.5,507.4 744.5,506.0 745.5,504.7 746.5,503.6 747.5,502.5 748.5,501.5 749.5,500.5 750.5,499.5 751.5,498.4 752.5,497.2 753.5,496.2 754.5,495.2 755.5,494.4 756.5,493.9 757.5,493.5 758.5,493.1 759.5,492.9 760.5,492.6 761.5,492.4 762.5,492.2 763.5,491.9 764.5,491.7 765.5,491.3 766.5,490.9 767.5,490.4 768.5,489.7 769.5,489.0 770.5,488.2 771.5,487.3 772.5,486.3 773.5,485.3 774.5,484.1 775.5,482.7 776.5,481.1 777.5,479.4 778.5,477.6 779.5,475.9 780.5,474.2 781.5,472.5 782.5,470.8 783.5,469.1 784.5,467.3 785.5,465.4 786.5,463.4 787.5,461.2 788.5,458.7 789.5,455.8 790.5,452.6 791.5,449.3 792.5,446.1 793.5,443.3 794.5,440.9 795.5,439.2 796.5,437.6 797.5,436.1 798.5,434.8 799.5,433.6 800.5,432.6 801.5,431.8 802.5,431.2 803.5,430.8 804.5,430.4 805.5,430.1 806.5,429.8 807.5,429.5 808.5,429.3 809.5,429.1 810.5,428.9 811.5,428.7 812.5,428.5 813.5,428.3 814.5,428.1 815.5,427.9 816.5,427.7 817.5,427.5 818.5,427.3 819.5,427.2 820.5,427.1 821.5,427.0 822.5,427.0 823.5,427.0 824.5,427.0 825.5,427.1 826.5,427.2 827.5,427.2 828.5,427.3 829.5,427.4 830.5,427.5 831.5,427.6 832.5,427.7 833.5,427.7 834.5,427.8 835.5,427.9 836.5,428.0 837.5,428.1 838.5,428.2 839.5,428.3 840.5,428.4 841.5,428.5 842.5,428.5 843.5,428.5 844.5,428.5 845.5,428.4 846.5,428.3 847.5,428.2 848.5,428.1 849.5,428.0 850.5,427.8 851.5,427.7 852.5,427.6 853.5,427.4 854.5,427.3 855.5,427.3 856.5,427.2 857.5,427.1 858.5,426.9 859.5,426.8 860.5,426.6 861.5,426.4 862.5,426.1 863.5,425.7 864.5,425.3 865.5,424.9 866.5,424.4 867.5,423.9 868.5,423.4 869.5,422.8 870.5,422.2 871.5,421.6 872.5,420.8 873.5,420.1 874.5,419.2 875.5,418.2 876.5,417.2 877.5,416.0 878.5,414.7 879.5,413.3 880.5,411.6 881.5,409.3 882.5,406.4 883.5,403.1 884.5,399.7 885.5,396.2 886.5,392.0 887.5,387.4 888.5,383.1 889.5,379.4 890.5,376.8 891.5,374.6 892.5,372.6 893.5,370.9 894.5,369.5 895.5,368.4 896.5,367.5 897.5,366.7 898.5,366.0 899.5,365.3 900.5,364.7 901.5,364.2 902.5,363.9 903.5,363.6 904.5,363.4 905.5,363.2 906.5,363.1 907.5,363.0 908.5,362.9 909.5,362.8 910.5,362.8 911.5,362.8 912.5,363.0 913.5,363.3 914.5,363.7 915.5,364.2 916.5,364.8 917.5,365.4 918.5,366.1 919.5,367.1 920.5,368.4 921.5,369.9 922.5,371.5 923.5,373.2 924.5,375.0 925.5,376.8 926.5,378.9 927.5,381.1 928.5,383.5 929.5,385.9 930.5,388.3 931.5,391.0 932.5,393.9 933.5,396.8 934.5,399.4 935.5,401.3 936.5,402.6 937.5,403.7 938.5,404.7 939.5,405.5 940.5,405.9 941.0,406.0 L941.0,629.3 Z" fill="#68c06c"/>
<path d="M17.5,629.3 L17.5,628.8 18.5,628.8 19.5,628.8 20.5,628.7 21.5,628.7 22.5,628.7 23.5,628.7 24.5,628.7 25.5,628.7 26.5,628.6 27.5,628.6 28.5,628.6 29.5,628.6 30.5,628.6 31.5,628.5 32.5,628.5 33.5,628.5 34.5,628.5 35.5,628.4 36.5,628.4 37.5,628.4 38.5,628.4 39.5,628.4 40.5,628.3 41.5,628.3 42.5,628.3 43.5,628.3 44.5,628.2 45.5,628.2 46.5,628.2 47.5,628.1 48.5,628.1 49.5,628.1 50.5,628.1 51.5,628.0 52.5,628.0 53.5,628.0 54.5,628.0 55.5,627.9 56.5,627.9 57.5,627.9 58.5,627.8 59.5,627.8 60.5,627.8 61.5,627.8 62.5,627.7 63.5,627.7 64.5,627.7 65.5,627.6 66.5,627.6 67.5,627.6 68.5,627.5 69.5,627.5 70.5,627.5 71.5,627.4 72.5,627.4 73.5,627.4 74.5,627.3 75.5,627.3 76.5,627.2 77.5,627.2 78.5,627.2 79.5,627.1 80.5,627.1 81.5,627.1 82.5,627.0 83.5,627.0 84.5,626.9 85.5,626.9 86.5,626.9 87.5,626.8 88.5,626.8 89.5,626.7 90.5,626.7 91.5,626.6 92.5,626.6 93.5,626.6 94.5,626.5 95.5,626.5 96.5,626.4 97.5,626.4 98.5,626.3 99.5,626.3 100.5,626.3 101.5,626.2 102.5,626.2 103.5,626.1 104.5,626.1 105.5,626.0 106.5,626.0 107.5,625.9 108.5,625.9 109.5,625.8 110.5,625.8 111.5,625.7 112.5,625.6 113.5,625.6 114.5,625.5 115.5,625.5 116.5,625.4 117.5,625.4 118.5,625.3 119.5,625.2 120.5,625.2 121.5,625.1 122.5,625.1 123.5,625.0 124.5,624.9 125.5,624.9 126.5,624.8 127.5,624.8 128.5,624.7 129.5,624.7 130.5,624.6 131.5,624.5 132.5,624.5 133.5,624.4 134.5,624.4 135.5,624.3 136.5,624.3 137.5,624.2 138.5,624.2 139.5,624.2 140.5,624.1 141.5,624.1 142.5,624.0 143.5,624.0 144.5,624.0 145.5,623.9 146.5,623.9 147.5,623.9 148.5,623.8 149.5,623.8 150.5,623.8 151.5,623.7 152.5,623.7 153.5,623.7 154.5,623.7 155.5,623.6 156.5,623.6 157.5,623.6 158.5,623.5 159.5,623.5 160.5,623.5 161.5,623.5 162.5,623.4 163.5,623.4 164.5,623.4 165.5,623.3 166.5,623.3 167.5,623.3 168.5,623.2 169.5,623.2 170.5,623.2 171.5,623.1 172.5,623.1 173.5,623.1 174.5,623.0 175.5,623.0 176.5,622.9 177.5,622.8 178.5,622.8 179.5,622.7 180.5,622.6 181.5,622.6 182.5,622.5 183.5,622.4 184.5,622.3 185.5,622.2 186.5,622.1 187.5,622.1 188.5,622.0 189.5,621.9 190.5,621.7 191.5,621.6 192.5,621.5 193.5,621.3 194.5,621.2 195.5,621.0 196.5,620.8 197.5,620.7 198.5,620.5 199.5,620.4 200.5,620.2 201.5,620.1 202.5,620.0 203.5,619.9 204.5,619.7 205.5,619.6 206.5,619.5 207.5,619.4 208.5,619.3 209.5,619.2 210.5,619.0 211.5,618.9 212.5,618.8 213.5,618.7 214.5,618.5 215.5,618.4 216.5,618.3 217.5,618.1 218.5,618.0 219.5,617.8 220.5,617.7 221.5,617.5 222.5,617.4 223.5,617.2 224.5,617.1 225.5,616.9 226.5,616.7 227.5,616.6 228.5,616.4 229.5,616.2 230.5,616.0 231.5,615.9 232.5,615.7 233.5,615.5 234.5,615.3 235.5,615.1 236.5,614.9 237.5,614.7 238.5,614.5 239.5,614.2 240.5,613.9 241.5,613.6 242.5,613.3 243.5,613.0 244.5,612.8 245.5,612.5 246.5,612.2 247.5,612.0 248.5,611.8 249.5,611.6 250.5,611.4 251.5,611.3 252.5,611.2 253.5,611.1 254.5,611.0 255.5,610.9 256.5,610.8 257.5,610.7 258.5,610.6 259.5,610.5 260.5,610.4 261.5,610.3 262.5,610.2 263.5,610.1 264.5,609.9 265.5,609.8 266.5,609.7 267.5,609.6 268.5,609.4 269.5,609.3 270.5,609.1 271.5,609.0 272.5,608.8 273.5,608.6 274.5,608.4 275.5,608.2 276.5,607.9 277.5,607.6 278.5,607.3 279.5,606.9 280.5,606.5 281.5,606.1 282.5,605.6 283.5,605.2 284.5,604.7 285.5,604.2 286.5,603.8 287.5,603.3 288.5,602.9 289.5,602.5 290.5,602.0 291.5,601.5 292.5,601.1 293.5,600.6 294.5,600.0 295.5,599.6 296.5,599.1 297.5,598.6 298.5,598.2 299.5,597.9 300.5,597.6 301.5,597.3 302.5,597.1 303.5,596.8 304.5,596.6 305.5,596.4 306.5,596.2 307.5,596.0 308.5,595.9 309.5,595.8 310.5,595.8 311.5,595.8 312.5,595.8 313.5,595.8 314.5,595.9 315.5,596.0 316.5,596.1 317.5,596.3 318.5,596.4 319.5,596.6 320.5,596.8 321.5,597.0 322.5,597.2 323.5,597.4 324.5,597.7 325.5,598.0 326.5,598.4 327.5,598.9 328.5,599.3 329.5,599.9 330.5,600.4 331.5,601.0 332.5,601.6 333.5,602.3 334.5,603.1 335.5,604.0 336.5,605.0 337.5,606.1 338.5,607.2 339.5,608.3 340.5,609.4 341.5,610.4 342.5,611.4 343.5,612.5 344.5,613.6 345.5,614.8 346.5,615.9 347.5,616.9 348.5,617.9 349.5,618.7 350.5,619.5 351.5,620.1 352.5,620.8 353.5,621.5 354.5,622.1 355.5,622.7 356.5,623.2 357.5,623.5 358.5,623.7 359.5,623.8 360.5,623.8 361.5,623.8 362.5,623.8 363.5,623.8 364.5,623.8 365.5,623.8 366.5,623.8 367.5,623.8 368.5,623.8 369.5,623.7 370.5,623.7 371.5,623.5 372.5,623.3 373.5,622.9 374.5,622.5 375.5,622.1 376.5,621.6 377.5,621.1 378.5,620.6 379.5,620.1 380.5,619.6 381.5,619.2 382.5,618.7 383.5,618.1 384.5,617.5 385.5,616.9 386.5,616.3 387.5,615.7 388.5,615.1 389.5,614.5 390.5,613.9 391.5,613.4 392.5,612.8 393.5,612.3 394.5,611.8 395.5,611.3 396.5,610.8 397.5,610.4 398.5,609.9 399.5,609.4 400.5,609.0 401.5,608.5 402.5,608.1 403.5,607.6 404.5,607.1 405.5,606.7 406.5,606.3 407.5,605.9 408.5,605.5 409.5,605.2 410.5,604.8 411.5,604.6 412.5,604.3 413.5,604.0 414.5,603.8 415.5,603.6 416.5,603.4 417.5,603.1 418.5,602.9 419.5,602.6 420.5,602.4 421.5,602.1 422.5,601.9 423.5,601.7 424.5,601.4 425.5,601.2 426.5,600.9 427.5,600.6 428.5,600.2 429.5,599.8 430.5,599.2 431.5,598.2 432.5,596.8 433.5,595.2 434.5,593.5 435.5,591.8 436.5,590.2 437.5,588.5 438.5,586.8 439.5,585.0 440.5,583.2 441.5,581.5 442.5,580.0 443.5,578.5 444.5,577.0 445.5,575.6 446.5,574.4 447.5,573.4 448.5,572.7 449.5,572.1 450.5,571.6 451.5,571.1 452.5,570.7 453.5,570.4 454.5,570.1 455.5,569.9 456.5,569.7 457.5,569.5 458.5,569.3 459.5,569.1 460.5,568.9 461.5,568.8 462.5,568.6 463.5,568.5 464.5,568.3 465.5,568.2 466.5,568.1 467.5,568.0 468.5,567.9 469.5,567.8 470.5,567.7 471.5,567.6 472.5,567.5 473.5,567.4 474.5,567.3 475.5,567.3 476.5,567.2 477.5,567.1 478.5,567.0 479.5,567.0 480.5,566.9 481.5,566.9 482.5,566.8 483.5,566.7 484.5,566.7 485.5,566.6 486.5,566.6 487.5,566.5 488.5,566.5 489.5,566.4 490.5,566.4 491.5,566.3 492.5,566.3 493.5,566.2 494.5,566.2 495.5,566.1 496.5,566.1 497.5,566.0 498.5,565.9 499.5,565.9 500.5,565.8 501.5,565.8 502.5,565.7 503.5,565.6 504.5,565.6 505.5,565.5 506.5,565.4 507.5,565.4 508.5,565.3 509.5,565.2 510.5,565.2 511.5,565.1 512.5,565.1 513.5,565.1 514.5,565.0 515.5,565.0 516.5,565.0 517.5,565.0 518.5,565.1 519.5,565.5 520.5,566.1 521.5,566.7 522.5,567.3 523.5,568.2 524.5,569.2 525.5,570.4 526.5,571.7 527.5,573.0 528.5,574.4 529.5,576.1 530.5,577.9 531.5,579.8 532.5,581.7 533.5,583.7 534.5,585.8 535.5,587.7 536.5,589.6 537.5,591.5 538.5,593.4 539.5,595.3 540.5,597.2 541.5,599.1 542.5,600.9 543.5,602.7 544.5,604.3 545.5,605.7 546.5,607.2 547.5,608.7 548.5,610.1 549.5,611.5 550.5,612.7 551.5,613.7 552.5,614.5 553.5,615.1 554.5,615.6 555.5,616.0 556.5,616.4 557.5,616.8 558.5,617.0 559.5,617.3 560.5,617.4 561.5,617.5 562.5,617.5 563.5,617.5 564.5,617.5 565.5,617.5 566.5,617.5 567.5,617.5 568.5,617.5 569.5,617.5 570.5,617.5 571.5,617.5 572.5,617.5 573.5,617.5 574.5,617.5 575.5,617.5 576.5,617.5 577.5,617.5 578.5,617.5 579.5,617.5 580.5,617.5 581.5,617.5 582.5,617.5 583.5,617.5 584.5,617.5 585.5,617.5 586.5,617.5 587.5,617.5 588.5,617.5 589.5,617.5 590.5,617.5 591.5,617.4 592.5,617.4 593.5,617.4 594.5,617.3 595.5,617.3 596.5,617.3 597.5,617.2 598.5,617.2 599.5,617.1 600.5,617.1 601.5,617.0 602.5,617.0 603.5,616.9 604.5,616.9 605.5,616.8 606.5,616.8 607.5,616.7 608.5,616.6 609.5,616.6 610.5,616.6 611.5,616.5 612.5,616.5 613.5,616.4 614.5,616.4 615.5,616.4 616.5,616.3 617.5,616.3 618.5,616.3 619.5,616.2 620.5,616.2 621.5,616.1 622.5,616.0 623.5,615.9 624.5,615.7 625.5,615.3 626.5,614.9 627.5,614.4 628.5,613.9 629.5,613.3 630.5,612.7 631.5,612.1 632.5,611.5 633.5,610.9 634.5,610.3 635.5,609.8 636.5,609.2 637.5,608.7 638.5,608.1 639.5,607.5 640.5,607.0 641.5,606.4 642.5,605.8 643.5,605.3 644.5,604.8 645.5,604.4 646.5,604.0 647.5,603.8 648.5,603.5 649.5,603.3 650.5,603.1 651.5,603.0 652.5,602.8 653.5,602.7 654.5,602.6 655.5,602.4 656.5,602.3 657.5,602.2 658.5,602.1 659.5,601.9 660.5,601.8 661.5,601.7 662.5,601.5 663.5,601.4 664.5,601.3 665.5,601.1 666.5,601.0 667.5,600.9 668.5,600.8 669.5,600.6 670.5,600.5 671.5,600.4 672.5,600.2 673.5,600.0 674.5,599.9 675.5,599.7 676.5,599.4 677.5,599.2 678.5,598.9 679.5,598.5 680.5,598.0 681.5,597.5 682.5,597.0 683.5,596.5 684.5,595.9 685.5,595.3 686.5,594.6 687.5,594.0 688.5,593.4 689.5,592.7 690.5,591.8 691.5,590.9 692.5,590.0 693.5,589.0 694.5,588.0 695.5,587.1 696.5,586.2 697.5,585.4 698.5,584.7 699.5,584.2 700.5,583.8 701.5,583.5 702.5,583.3 703.5,583.0 704.5,582.8 705.5,582.6 706.5,582.4 707.5,582.3 708.5,582.1 709.5,581.9 710.5,581.7 711.5,581.5 712.5,581.2 713.5,581.0 714.5,580.8 715.5,580.5 716.5,580.3 717.5,580.1 718.5,579.8 719.5,579.5 720.5,579.3 721.5,578.9 722.5,578.6 723.5,578.2 724.5,577.7 725.5,577.2 726.5,576.5 727.5,575.6 728.5,574.5 729.5,573.2 730.5,571.9 731.5,570.4 732.5,568.9 733.5,567.4 734.5,565.8 735.5,564.2 736.5,562.4 737.5,560.4 738.5,558.2 739.5,556.1 740.5,553.9 741.5,551.9 742.5,550.0 743.5,548.2 744.5,546.3 745.5,544.4 746.5,542.7 747.5,541.3 748.5,540.2 749.5,539.4 750.5,538.8 751.5,538.2 752.5,537.7 753.5,537.3 754.5,536.9 755.5,536.5 756.5,536.2 757.5,535.9 758.5,535.6 759.5,535.4 760.5,535.2 761.5,535.0 762.5,534.8 763.5,534.6 764.5,534.3 765.5,534.0 766.5,533.6 767.5,533.1 768.5,532.5 769.5,531.8 770.5,530.9 771.5,529.9 772.5,528.9 773.5,527.8 774.5,526.5 775.5,524.9 776.5,523.1 777.5,521.1 778.5,519.1 779.5,517.2 780.5,515.4 781.5,513.6 782.5,511.8 783.5,510.0 784.5,508.2 785.5,506.4 786.5,504.5 787.5,502.7 788.5,500.8 789.5,499.0 790.5,497.0 791.5,495.0 792.5,493.0 793.5,491.0 794.5,489.0 795.5,487.0 796.5,484.8 797.5,482.5 798.5,480.5 799.5,479.0 800.5,478.1 801.5,477.4 802.5,476.8 803.5,476.2 804.5,475.7 805.5,475.3 806.5,475.0 807.5,474.7 808.5,474.5 809.5,474.4 810.5,474.3 811.5,474.3 812.5,474.2 813.5,474.2 814.5,474.1 815.5,474.1 816.5,474.1 817.5,474.0 818.5,473.9 819.5,473.8 820.5,473.6 821.5,473.1 822.5,472.3 823.5,471.2 824.5,470.0 825.5,468.7 826.5,467.5 827.5,466.2 828.5,465.1 829.5,463.8 830.5,462.5 831.5,461.2 832.5,459.8 833.5,458.4 834.5,457.0 835.5,455.5 836.5,454.0 837.5,452.5 838.5,450.9 839.5,449.4 840.5,447.9 841.5,446.4 842.5,445.0 843.5,443.6 844.5,442.2 845.5,440.9 846.5,439.6 847.5,438.5 848.5,437.7 849.5,437.0 850.5,436.5 851.5,436.0 852.5,435.5 853.5,435.1 854.5,434.7 855.5,434.4 856.5,434.1 857.5,433.8 858.5,433.5 859.5,433.2 860.5,433.0 861.5,432.7 862.5,432.5 863.5,432.3 864.5,432.1 865.5,431.8 866.5,431.6 867.5,431.2 868.5,430.9 869.5,430.5 870.5,430.0 871.5,429.6 872.5,429.0 873.5,428.5 874.5,427.8 875.5,427.2 876.5,426.4 877.5,425.4 878.5,424.3 879.5,422.9 880.5,421.0 881.5,418.8 882.5,416.3 883.5,413.8 884.5,411.2 885.5,408.8 886.5,406.2 887.5,403.6 888.5,400.9 889.5,398.2 890.5,395.5 891.5,393.1 892.5,390.5 893.5,388.0 894.5,385.5 895.5,383.3 896.5,381.4 897.5,380.0 898.5,378.6 899.5,377.4 900.5,376.3 901.5,375.4 902.5,374.6 903.5,374.1 904.5,373.7 905.5,373.4 906.5,373.1 907.5,372.9 908.5,372.7 909.5,372.6 910.5,372.5 911.5,372.6 912.5,372.8 913.5,373.3 914.5,373.9 915.5,374.6 916.5,375.4 917.5,376.7 918.5,378.6 919.5,380.9 920.5,383.3 921.5,386.1 922.5,389.4 923.5,393.0 924.5,396.7 925.5,400.7 926.5,405.1 927.5,409.6 928.5,414.0 929.5,418.0 930.5,421.9 931.5,425.6 932.5,429.1 933.5,432.5 934.5,436.0 935.5,439.3 936.5,442.0 937.5,443.7 938.5,445.1 939.5,446.2 940.5,446.9 941.0,447.0 L941.0,629.3 Z" fill="#a2c06a"/>
<path d="M17.5,629.3 L17.5,629.3 18.5,629.3 19.5,629.3 20.5,629.3 21.5,629.3 22.5,629.3 23.5,629.3 24.5,629.3 25.5,629.3 26.5,629.3 27.5,629.3 28.5,629.3 29.5,629.3 30.5,629.3 31.5,629.3 32.5,629.3 33.5,629.3 34.5,629.3 35.5,629.3 36.5,629.3 37.5,629.3 38.5,629.3 39.5,629.3 40.5,629.3 41.5,629.3 42.5,629.3 43.5,629.3 44.5,629.3 45.5,629.3 46.5,629.3 47.5,629.3 48.5,629.3 49.5,629.3 50.5,629.3 51.5,629.3 52.5,629.3 53.5,629.3 54.5,629.3 55.5,629.3 56.5,629.3 57.5,629.3 58.5,629.3 59.5,629.3 60.5,629.3 61.5,629.3 62.5,629.3 63.5,629.3 64.5,629.3 65.5,629.3 66.5,629.3 67.5,629.3 68.5,629.3 69.5,629.3 70.5,629.3 71.5,629.3 72.5,629.3 73.5,629.3 74.5,629.3 75.5,629.3 76.5,629.3 77.5,629.3 78.5,629.3 79.5,629.3 80.5,629.3 81.5,629.3 82.5,629.3 83.5,629.3 84.5,629.3 85.5,629.3 86.5,629.3 87.5,629.3 88.5,629.3 89.5,629.3 90.5,629.3 91.5,629.3 92.5,629.3 93.5,629.3 94.5,629.3 95.5,629.3 96.5,629.3 97.5,629.3 98.5,629.3 99.5,629.3 100.5,629.3 101.5,629.3 102.5,629.3 103.5,629.3 104.5,629.3 105.5,629.3 106.5,629.3 107.5,629.3 108.5,629.3 109.5,629.3 110.5,629.3 111.5,629.3 112.5,629.3 113.5,629.3 114.5,629.3 115.5,629.3 116.5,629.3 117.5,629.3 118.5,629.3 119.5,629.3 120.5,629.3 121.5,629.3 122.5,629.3 123.5,629.3 124.5,629.3 125.5,629.3 126.5,629.3 127.5,629.3 128.5,629.3 129.5,629.3 130.5,629.3 131.5,629.3 132.5,629.3 133.5,629.3 134.5,629.3 135.5,629.3 136.5,629.3 137.5,629.3 138.5,629.3 139.5,629.3 140.5,629.3 141.5,629.3 142.5,629.3 143.5,629.3 144.5,629.3 145.5,629.3 146.5,629.3 147.5,629.3 148.5,629.3 149.5,629.3 150.5,629.3 151.5,629.3 152.5,629.3 153.5,629.3 154.5,629.3 155.5,629.3 156.5,629.3 157.5,629.3 158.5,629.3 159.5,629.3 160.5,629.3 161.5,629.3 162.5,629.3 163.5,629.3 164.5,629.3 165.5,629.3 166.5,629.3 167.5,629.3 168.5,629.3 169.5,629.3 170.5,629.3 171.5,629.3 172.5,629.3 173.5,629.3 174.5,629.3 175.5,629.3 176.5,629.3 177.5,629.3 178.5,629.3 179.5,629.3 180.5,629.3 181.5,629.3 182.5,629.3 183.5,629.3 184.5,629.3 185.5,629.3 186.5,628.9 187.5,628.8 188.5,628.7 189.5,628.6 190.5,628.5 191.5,628.4 192.5,628.3 193.5,628.3 194.5,628.2 195.5,628.1 196.5,628.1 197.5,628.0 198.5,628.0 199.5,628.0 200.5,628.0 201.5,628.0 202.5,628.0 203.5,628.0 204.5,628.0 205.5,628.0 206.5,628.0 207.5,628.0 208.5,628.0 209.5,628.0 210.5,628.0 211.5,628.0 212.5,628.1 213.5,628.1 214.5,628.1 215.5,628.1 216.5,628.1 217.5,628.1 218.5,628.1 219.5,628.1 220.5,628.1 221.5,628.1 222.5,628.1 223.5,628.1 224.5,628.2 225.5,628.2 226.5,628.2 227.5,628.2 228.5,628.2 229.5,628.2 230.5,628.2 231.5,628.2 232.5,628.2 233.5,628.2 234.5,628.2 235.5,628.3 236.5,628.3 237.5,628.3 238.5,628.3 239.5,628.3 240.5,628.3 241.5,628.3 242.5,628.3 243.5,628.4 244.5,628.4 245.5,628.4 246.5,628.4 247.5,628.4 248.5,628.4 249.5,628.4 250.5,628.4 251.5,628.5 252.5,628.5 253.5,628.5 254.5,628.5 255.5,628.5 256.5,628.5 257.5,628.5 258.5,628.5 259.5,628.5 260.5,628.5 261.5,628.5 262.5,628.5 263.5,628.5 264.5,628.5 265.5,628.5 266.5,628.5 267.5,628.5 268.5,628.5 269.5,628.5 270.5,628.5 271.5,628.5 272.5,628.5 273.5,628.5 274.5,628.5 275.5,628.5 276.5,628.5 277.5,628.5 278.5,628.5 279.5,628.5 280.5,628.5 281.5,628.5 282.5,628.5 283.5,628.5 284.5,628.5 285.5,628.5 286.5,628.5 287.5,628.5 288.5,628.5 289.5,628.5 290.5,628.5 291.5,628.5 292.5,628.5 293.5,628.5 294.5,628.5 295.5,628.5 296.5,628.5 297.5,628.5 298.5,628.5 299.5,628.5 300.5,628.5 301.5,628.5 302.5,628.5 303.5,628.5 304.5,628.5 305.5,628.5 306.5,628.5 307.5,628.5 308.5,628.5 309.5,628.5 310.5,628.5 311.5,628.5 312.5,628.5 313.5,628.5 314.5,628.5 315.5,628.5 316.5,628.5 317.5,628.5 318.5,628.5 319.5,628.5 320.5,628.5 321.5,628.5 322.5,628.5 323.5,628.5 324.5,628.5 325.5,628.5 326.5,628.5 327.5,628.5 328.5,628.5 329.5,628.5 330.5,628.5 331.5,628.5 332.5,628.5 333.5,628.5 334.5,628.5 335.5,628.5 336.5,628.5 337.5,628.5 338.5,628.4 339.5,628.4 340.5,628.4 341.5,628.4 342.5,628.4 343.5,628.4 344.5,628.4 345.5,628.3 346.5,628.3 347.5,628.3 348.5,628.3 349.5,628.3 350.5,628.2 351.5,628.2 352.5,628.2 353.5,628.2 354.5,628.1 355.5,628.1 356.5,628.1 357.5,628.1 358.5,628.0 359.5,628.0 360.5,628.0 361.5,628.0 362.5,627.9 363.5,627.9 364.5,627.9 365.5,627.8 366.5,627.8 367.5,627.8 368.5,627.7 369.5,627.7 370.5,627.6 371.5,627.5 372.5,627.5 373.5,627.4 374.5,627.3 375.5,627.1 376.5,627.0 377.5,626.8 378.5,626.6 379.5,626.4 380.5,626.1 381.5,625.9 382.5,625.5 383.5,624.9 384.5,624.3 385.5,623.6 386.5,622.9 387.5,622.1 388.5,621.4 389.5,620.6 390.5,619.9 391.5,619.2 392.5,618.5 393.5,617.8 394.5,617.1 395.5,616.4 396.5,615.9 397.5,615.5 398.5,615.2 399.5,614.9 400.5,614.7 401.5,614.5 402.5,614.2 403.5,614.1 404.5,613.9 405.5,613.7 406.5,613.6 407.5,613.5 408.5,613.3 409.5,613.2 410.5,613.2 411.5,613.1 412.5,613.0 413.5,612.9 414.5,612.8 415.5,612.8 416.5,612.7 417.5,612.6 418.5,612.6 419.5,612.6 420.5,612.5 421.5,612.5 422.5,612.5 423.5,612.5 424.5,612.5 425.5,612.5 426.5,612.5 427.5,612.5 428.5,612.5 429.5,612.6 430.5,612.6 431.5,612.6 432.5,612.6 433.5,612.6 434.5,612.6 435.5,612.7 436.5,612.7 437.5,612.7 438.5,612.7 439.5,612.8 440.5,612.8 441.5,612.8 442.5,612.8 443.5,612.9 444.5,612.9 445.5,612.9 446.5,613.0 447.5,613.0 448.5,613.0 449.5,613.1 450.5,613.1 451.5,613.2 452.5,613.2 453.5,613.3 454.5,613.3 455.5,613.4 456.5,613.5 457.5,613.5 458.5,613.6 459.5,613.7 460.5,613.8 461.5,613.9 462.5,614.0 463.5,614.1 464.5,614.1 465.5,614.2 466.5,614.3 467.5,614.5 468.5,614.6 469.5,614.7 470.5,614.8 471.5,614.9 472.5,615.0 473.5,615.1 474.5,615.3 475.5,615.4 476.5,615.6 477.5,615.7 478.5,615.9 479.5,616.1 480.5,616.3 481.5,616.5 482.5,616.8 483.5,617.0 484.5,617.2 485.5,617.4 486.5,617.7 487.5,617.9 488.5,618.1 489.5,618.4 490.5,618.6 491.5,618.8 492.5,619.0 493.5,619.2 494.5,619.4 495.5,619.6 496.5,619.8 497.5,620.0 498.5,620.2 499.5,620.3 500.5,620.5 501.5,620.7 502.5,620.8 503.5,621.0 504.5,621.2 505.5,621.3 506.5,621.5 507.5,621.7 508.5,621.8 509.5,622.0 510.5,622.1 511.5,622.3 512.5,622.4 513.5,622.6 514.5,622.7 515.5,622.9 516.5,623.0 517.5,623.1 518.5,623.3 519.5,623.4 520.5,623.5 521.5,623.6 522.5,623.8 523.5,623.9 524.5,624.0 525.5,624.1 526.5,624.2 527.5,624.3 528.5,624.4 529.5,624.5 530.5,624.6 531.5,624.7 532.5,624.8 533.5,624.9 534.5,625.0 535.5,625.1 536.5,625.2 537.5,625.3 538.5,625.4 539.5,625.5 540.5,625.6 541.5,625.6 542.5,625.7 543.5,625.8 544.5,625.8 545.5,625.9 546.5,626.0 547.5,626.0 548.5,626.0 549.5,626.1 550.5,626.1 551.5,626.2 552.5,626.2 553.5,626.3 554.5,626.3 555.5,626.3 556.5,626.4 557.5,626.4 558.5,626.4 559.5,626.4 560.5,626.4 561.5,626.4 562.5,626.4 563.5,626.4 564.5,626.4 565.5,626.4 566.5,626.4 567.5,626.4 568.5,626.4 569.5,626.4 570.5,626.4 571.5,626.4 572.5,626.4 573.5,626.3 574.5,626.3 575.5,626.3 576.5,626.3 577.5,626.3 578.5,626.3 579.5,626.3 580.5,626.3 581.5,626.3 582.5,626.3 583.5,626.2 584.5,626.2 585.5,626.2 586.5,626.2 587.5,626.2 588.5,626.2 589.5,626.2 590.5,626.1 591.5,626.1 592.5,626.1 593.5,626.1 594.5,626.1 595.5,626.1 596.5,626.0 597.5,626.0 598.5,626.0 599.5,626.0 600.5,626.0 601.5,626.0 602.5,625.9 603.5,625.9 604.5,625.9 605.5,625.9 606.5,625.9 607.5,625.8 608.5,625.8 609.5,625.8 610.5,625.8 611.5,625.8 612.5,625.7 613.5,625.7 614.5,625.7 615.5,625.7 616.5,625.6 617.5,625.6 618.5,625.6 619.5,625.6 620.5,625.5 621.5,625.5 622.5,625.5 623.5,625.5 624.5,625.4 625.5,625.4 626.5,625.3 627.5,625.3 628.5,625.3 629.5,625.2 630.5,625.2 631.5,625.1 632.5,625.1 633.5,625.0 634.5,625.0 635.5,624.9 636.5,624.9 637.5,624.8 638.5,624.8 639.5,624.7 640.5,624.6 641.5,624.6 642.5,624.5 643.5,624.5 644.5,624.4 645.5,624.3 646.5,624.3 647.5,624.2 648.5,624.1 649.5,624.1 650.5,624.0 651.5,623.9 652.5,623.8 653.5,623.8 654.5,623.7 655.5,623.6 656.5,623.5 657.5,623.4 658.5,623.3 659.5,623.2 660.5,623.1 661.5,623.0 662.5,622.9 663.5,622.8 664.5,622.7 665.5,622.5 666.5,622.4 667.5,622.3 668.5,622.1 669.5,622.0 670.5,621.8 671.5,621.7 672.5,621.5 673.5,621.3 674.5,621.0 675.5,620.8 676.5,620.6 677.5,620.3 678.5,620.0 679.5,619.7 680.5,619.4 681.5,619.1 682.5,618.8 683.5,618.5 684.5,618.1 685.5,617.7 686.5,617.2 687.5,616.7 688.5,616.1 689.5,615.5 690.5,614.9 691.5,614.2 692.5,613.6 693.5,612.9 694.5,612.3 695.5,611.7 696.5,611.1 697.5,610.6 698.5,610.2 699.5,609.8 700.5,609.4 701.5,609.2 702.5,608.9 703.5,608.7 704.5,608.5 705.5,608.3 706.5,608.1 707.5,607.9 708.5,607.8 709.5,607.6 710.5,607.4 711.5,607.1 712.5,606.9 713.5,606.6 714.5,606.3 715.5,605.9 716.5,605.5 717.5,604.9 718.5,604.4 719.5,603.7 720.5,603.0 721.5,602.2 722.5,601.4 723.5,600.3 724.5,599.0 725.5,597.6 726.5,596.1 727.5,594.5 728.5,592.9 729.5,591.2 730.5,589.3 731.5,587.1 732.5,584.9 733.5,582.8 734.5,580.8 735.5,579.3 736.5,578.0 737.5,576.8 738.5,575.4 739.5,573.6 740.5,571.3 741.5,568.8 742.5,566.1 743.5,563.5 744.5,561.1 745.5,559.0 746.5,556.8 747.5,554.6 748.5,552.6 749.5,550.8 750.5,549.5 751.5,548.6 752.5,547.9 753.5,547.4 754.5,546.9 755.5,546.5 756.5,546.1 757.5,545.8 758.5,545.5 759.5,545.2 760.5,544.8 761.5,544.6 762.5,544.3 763.5,544.1 764.5,543.9 765.5,543.7 766.5,543.5 767.5,543.3 768.5,543.0 769.5,542.7 770.5,542.3 771.5,541.7 772.5,541.1 773.5,540.3 774.5,539.4 775.5,538.3 776.5,537.2 777.5,535.7 778.5,533.8 779.5,531.6 780.5,529.4 781.5,527.1 782.5,525.0 783.5,523.0 784.5,521.0 785.5,519.0 786.5,517.0 787.5,515.0 788.5,513.0 789.5,511.0 790.5,509.1 791.5,507.1 792.5,505.2 793.5,503.2 794.5,501.1 795.5,498.8 796.5,496.1 797.5,493.2 798.5,490.6 799.5,488.6 800.5,487.5 801.5,486.7 802.5,485.9 803.5,485.2 804.5,484.6 805.5,484.1 806.5,483.6 807.5,483.2 808.5,482.9 809.5,482.6 810.5,482.4 811.5,482.2 812.5,482.0 813.5,481.9 814.5,481.8 815.5,481.7 816.5,481.6 817.5,481.5 818.5,481.3 819.5,481.1 820.5,480.9 821.5,480.6 822.5,480.2 823.5,479.8 824.5,479.3 825.5,478.8 826.5,478.2 827.5,477.5 828.5,476.7 829.5,475.6 830.5,474.3 831.5,472.9 832.5,471.4 833.5,469.8 834.5,468.3 835.5,466.7 836.5,465.1 837.5,463.3 838.5,461.4 839.5,459.6 840.5,457.9 841.5,456.3 842.5,455.0 843.5,453.8 844.5,452.6 845.5,451.5 846.5,450.5 847.5,449.6 848.5,448.8 849.5,448.2 850.5,447.8 851.5,447.5 852.5,447.2 853.5,447.0 854.5,446.8 855.5,446.6 856.5,446.4 857.5,446.2 858.5,446.0 859.5,445.7 860.5,445.4 861.5,445.1 862.5,444.8 863.5,444.4 864.5,444.1 865.5,443.6 866.5,443.2 867.5,442.7 868.5,442.2 869.5,441.6 870.5,440.9 871.5,440.1 872.5,439.0 873.5,437.9 874.5,436.6 875.5,435.3 876.5,433.9 877.5,432.5 878.5,431.1 879.5,429.5 880.5,427.8 881.5,426.0 882.5,424.0 883.5,421.5 884.5,418.7 885.5,416.0 886.5,414.1 887.5,412.6 888.5,411.3 889.5,410.2 890.5,409.0 891.5,407.8 892.5,406.3 893.5,404.4 894.5,402.1 895.5,399.4 896.5,396.9 897.5,394.6 898.5,393.0 899.5,391.7 900.5,390.6 901.5,389.5 902.5,388.7 903.5,388.0 904.5,387.5 905.5,387.1 906.5,386.7 907.5,386.3 908.5,386.0 909.5,385.8 910.5,385.7 911.5,385.7 912.5,385.8 913.5,386.0 914.5,386.3 915.5,386.7 916.5,387.1 917.5,387.6 918.5,388.5 919.5,390.3 920.5,392.8 921.5,395.9 922.5,399.1 923.5,402.3 924.5,406.0 925.5,410.1 926.5,414.3 927.5,418.3 928.5,422.1 929.5,425.9 930.5,429.6 931.5,433.0 932.5,436.1 933.5,439.3 934.5,442.1 935.5,444.2 936.5,445.7 937.5,447.0 938.5,448.1 939.5,449.0 940.5,449.4 941.0,449.5 L941.0,629.3 Z" fill="#c2a46c"/>
<path d="M17.5,629.3 L17.5,629.3 18.5,629.3 19.5,629.3 20.5,629.3 21.5,629.3 22.5,629.3 23.5,629.3 24.5,629.3 25.5,629.3 26.5,629.3 27.5,629.3 28.5,629.3 29.5,629.3 30.5,629.3 31.5,629.3 32.5,629.3 33.5,629.3 34.5,629.3 35.5,629.3 36.5,629.3 37.5,629.3 38.5,629.3 39.5,629.3 40.5,629.3 41.5,629.3 42.5,629.3 43.5,629.3 44.5,629.3 45.5,629.3 46.5,629.3 47.5,629.3 48.5,629.3 49.5,629.3 50.5,629.3 51.5,629.3 52.5,629.3 53.5,629.3 54.5,629.3 55.5,629.3 56.5,629.3 57.5,629.3 58.5,629.3 59.5,629.3 60.5,629.3 61.5,629.3 62.5,629.3 63.5,629.3 64.5,629.3 65.5,629.3 66.5,629.3 67.5,629.3 68.5,629.3 69.5,629.3 70.5,629.3 71.5,629.3 72.5,629.3 73.5,629.3 74.5,629.3 75.5,629.3 76.5,629.3 77.5,629.3 78.5,629.3 79.5,629.3 80.5,629.3 81.5,629.3 82.5,629.3 83.5,629.3 84.5,629.3 85.5,629.3 86.5,629.3 87.5,629.3 88.5,629.3 89.5,629.3 90.5,629.3 91.5,629.3 92.5,629.3 93.5,629.3 94.5,629.3 95.5,629.3 96.5,629.3 97.5,629.3 98.5,629.3 99.5,629.3 100.5,629.3 101.5,629.3 102.5,629.3 103.5,629.3 104.5,629.3 105.5,629.3 106.5,629.3 107.5,629.3 108.5,629.3 109.5,629.3 110.5,629.3 111.5,629.3 112.5,629.3 113.5,629.3 114.5,629.3 115.5,629.3 116.5,629.3 117.5,629.3 118.5,629.3 119.5,629.3 120.5,629.3 121.5,629.3 122.5,629.3 123.5,629.3 124.5,629.3 125.5,629.3 126.5,629.3 127.5,629.3 128.5,629.3 129.5,629.3 130.5,629.3 131.5,629.3 132.5,629.3 133.5,629.3 134.5,629.3 135.5,629.3 136.5,629.3 137.5,629.3 138.5,629.3 139.5,629.3 140.5,629.3 141.5,629.3 142.5,629.3 143.5,629.3 144.5,629.3 145.5,629.3 146.5,629.3 147.5,629.3 148.5,629.3 149.5,629.3 150.5,629.3 151.5,629.3 152.5,629.3 153.5,629.3 154.5,629.3 155.5,629.3 156.5,629.3 157.5,629.3 158.5,629.3 159.5,629.3 160.5,629.3 161.5,629.3 162.5,629.3 163.5,629.3 164.5,629.3 165.5,629.3 166.5,629.3 167.5,629.3 168.5,629.3 169.5,629.3 170.5,629.3 171.5,629.3 172.5,629.3 173.5,629.3 174.5,629.3 175.5,629.3 176.5,629.3 177.5,629.3 178.5,629.3 179.5,629.3 180.5,629.3 181.5,629.3 182.5,629.3 183.5,629.3 184.5,629.3 185.5,629.3 186.5,629.3 187.5,629.3 188.5,629.3 189.5,629.3 190.5,629.3 191.5,629.3 192.5,629.3 193.5,629.3 194.5,629.3 195.5,629.3 196.5,629.3 197.5,629.3 198.5,629.3 199.5,629.3 200.5,629.3 201.5,629.3 202.5,629.3 203.5,629.3 204.5,629.3 205.5,629.3 206.5,629.3 207.5,629.3 208.5,629.3 209.5,629.3 210.5,629.3 211.5,629.3 212.5,629.3 213.5,629.3 214.5,629.3 215.5,629.3 216.5,629.3 217.5,629.3 218.5,629.3 219.5,629.3 220.5,629.3 221.5,629.3 222.5,629.3 223.5,629.3 224.5,629.3 225.5,629.3 226.5,629.3 227.5,629.3 228.5,629.3 229.5,629.3 230.5,629.3 231.5,629.3 232.5,629.3 233.5,629.3 234.5,629.3 235.5,629.3 236.5,629.3 237.5,629.3 238.5,629.3 239.5,629.3 240.5,629.3 241.5,629.3 242.5,629.3 243.5,629.3 244.5,629.3 245.5,629.3 246.5,629.3 247.5,629.3 248.5,629.3 249.5,629.3 250.5,629.3 251.5,629.3 252.5,629.3 253.5,629.3 254.5,629.3 255.5,629.3 256.5,629.3 257.5,629.3 258.5,629.3 259.5,629.3 260.5,629.3 261.5,629.3 262.5,629.3 263.5,629.3 264.5,629.3 265.5,629.3 266.5,629.3 267.5,629.3 268.5,629.3 269.5,629.3 270.5,629.3 271.5,629.3 272.5,629.3 273.5,629.3 274.5,629.3 275.5,629.3 276.5,629.3 277.5,629.3 278.5,629.3 279.5,629.3 280.5,629.3 281.5,629.3 282.5,629.3 283.5,629.3 284.5,629.3 285.5,629.3 286.5,629.3 287.5,629.3 288.5,629.3 289.5,629.3 290.5,629.3 291.5,629.3 292.5,629.3 293.5,629.3 294.5,629.3 295.5,629.3 296.5,629.3 297.5,629.3 298.5,629.3 299.5,629.3 300.5,629.3 301.5,629.3 302.5,629.3 303.5,629.3 304.5,629.3 305.5,629.3 306.5,629.3 307.5,629.3 308.5,629.3 309.5,629.3 310.5,629.3 311.5,629.3 312.5,629.3 313.5,629.3 314.5,629.3 315.5,629.3 316.5,629.3 317.5,629.3 318.5,629.3 319.5,629.3 320.5,629.3 321.5,629.3 322.5,629.3 323.5,629.3 324.5,629.3 325.5,629.3 326.5,629.3 327.5,629.3 328.5,629.3 329.5,629.3 330.5,629.3 331.5,629.3 332.5,629.3 333.5,629.3 334.5,629.3 335.5,629.3 336.5,629.3 337.5,629.3 338.5,629.3 339.5,629.3 340.5,629.3 341.5,629.3 342.5,629.3 343.5,629.3 344.5,629.3 345.5,629.3 346.5,629.3 347.5,629.3 348.5,629.3 349.5,629.3 350.5,629.3 351.5,629.3 352.5,629.3 353.5,629.3 354.5,629.3 355.5,629.3 356.5,629.3 357.5,629.3 358.5,629.3 359.5,629.3 360.5,629.3 361.5,629.3 362.5,629.3 363.5,629.3 364.5,629.3 365.5,629.3 366.5,629.3 367.5,629.3 368.5,629.3 369.5,629.3 370.5,629.3 371.5,629.3 372.5,629.3 373.5,629.3 374.5,629.3 375.5,629.3 376.5,629.3 377.5,629.3 378.5,629.3 379.5,629.3 380.5,629.3 381.5,629.3 382.5,629.3 383.5,629.3 384.5,629.3 385.5,629.3 386.5,629.3 387.5,629.3 388.5,629.3 389.5,629.3 390.5,629.3 391.5,629.3 392.5,629.3 393.5,629.3 394.5,629.3 395.5,629.3 396.5,629.3 397.5,629.3 398.5,629.3 399.5,629.3 400.5,629.3 401.5,629.3 402.5,629.3 403.5,629.3 404.5,629.3 405.5,629.3 406.5,629.3 407.5,629.3 408.5,629.3 409.5,629.3 410.5,629.3 411.5,629.3 412.5,629.3 413.5,629.3 414.5,629.3 415.5,629.3 416.5,629.3 417.5,629.3 418.5,629.3 419.5,629.3 420.5,629.3 421.5,629.3 422.5,629.3 423.5,629.3 424.5,629.3 425.5,629.3 426.5,629.3 427.5,629.3 428.5,629.3 429.5,629.3 430.5,629.3 431.5,629.3 432.5,629.3 433.5,629.3 434.5,629.3 435.5,629.3 436.5,629.3 437.5,629.3 438.5,629.3 439.5,629.3 440.5,629.3 441.5,629.3 442.5,629.3 443.5,629.3 444.5,629.3 445.5,629.3 446.5,629.3 447.5,629.3 448.5,629.3 449.5,629.3 450.5,629.3 451.5,629.3 452.5,629.3 453.5,629.3 454.5,629.3 455.5,629.3 456.5,629.3 457.5,629.3 458.5,629.3 459.5,629.3 460.5,629.3 461.5,629.3 462.5,629.3 463.5,629.3 464.5,629.3 465.5,629.3 466.5,629.3 467.5,629.3 468.5,629.3 469.5,629.3 470.5,629.3 471.5,629.3 472.5,629.3 473.5,629.3 474.5,629.3 475.5,629.3 476.5,629.3 477.5,629.3 478.5,629.3 479.5,629.3 480.5,629.3 481.5,629.3 482.5,629.3 483.5,629.3 484.5,629.3 485.5,629.3 486.5,629.3 487.5,629.3 488.5,629.3 489.5,629.3 490.5,629.3 491.5,629.3 492.5,629.3 493.5,629.3 494.5,629.3 495.5,629.3 496.5,629.3 497.5,629.3 498.5,629.3 499.5,629.3 500.5,629.3 501.5,629.3 502.5,629.3 503.5,629.3 504.5,629.3 505.5,629.3 506.5,629.3 507.5,629.3 508.5,629.3 509.5,629.3 510.5,629.3 511.5,629.3 512.5,629.3 513.5,629.3 514.5,629.3 515.5,629.3 516.5,629.3 517.5,629.3 518.5,629.3 519.5,629.3 520.5,629.3 521.5,629.3 522.5,629.3 523.5,629.3 524.5,629.3 525.5,629.3 526.5,629.3 527.5,629.3 528.5,629.3 529.5,629.3 530.5,629.3 531.5,629.3 532.5,629.3 533.5,629.3 534.5,629.3 535.5,629.3 536.5,629.3 537.5,629.3 538.5,629.3 539.5,629.3 540.5,629.3 541.5,629.3 542.5,629.3 543.5,629.3 544.5,629.3 545.5,629.3 546.5,629.3 547.5,629.3 548.5,629.3 549.5,629.3 550.5,629.3 551.5,629.3 552.5,629.3 553.5,629.3 554.5,629.3 555.5,629.3 556.5,629.3 557.5,629.3 558.5,629.3 559.5,629.3 560.5,629.3 561.5,629.3 562.5,629.3 563.5,629.3 564.5,629.3 565.5,629.3 566.5,629.3 567.5,629.3 568.5,629.3 569.5,629.3 570.5,629.3 571.5,629.3 572.5,629.3 573.5,629.3 574.5,629.3 575.5,629.3 576.5,629.3 577.5,629.3 578.5,629.3 579.5,629.3 580.5,629.3 581.5,629.3 582.5,629.3 583.5,629.3 584.5,629.3 585.5,629.3 586.5,629.3 587.5,629.3 588.5,629.3 589.5,629.3 590.5,629.3 591.5,629.3 592.5,629.3 593.5,629.3 594.5,629.3 595.5,629.3 596.5,629.3 597.5,629.3 598.5,629.3 599.5,629.3 600.5,629.3 601.5,629.3 602.5,629.3 603.5,629.3 604.5,629.3 605.5,629.3 606.5,629.3 607.5,629.3 608.5,629.3 609.5,629.3 610.5,629.3 611.5,629.3 612.5,629.3 613.5,629.3 614.5,629.3 615.5,629.3 616.5,629.3 617.5,629.3 618.5,629.3 619.5,629.3 620.5,629.3 621.5,629.3 622.5,629.3 623.5,629.3 624.5,629.3 625.5,629.3 626.5,629.3 627.5,629.3 628.5,629.3 629.5,629.3 630.5,629.3 631.5,629.3 632.5,629.3 633.5,629.3 634.5,629.3 635.5,629.3 636.5,629.3 637.5,629.3 638.5,629.3 639.5,629.3 640.5,629.0 641.5,629.0 642.5,629.0 643.5,629.0 644.5,629.0 645.5,628.9 646.5,628.9 647.5,628.9 648.5,628.9 649.5,628.9 650.5,628.9 651.5,628.9 652.5,628.9 653.5,628.8 654.5,628.8 655.5,628.8 656.5,628.8 657.5,628.8 658.5,628.8 659.5,628.7 660.5,628.7 661.5,628.7 662.5,628.7 663.5,628.7 664.5,628.7 665.5,628.6 666.5,628.6 667.5,628.6 668.5,628.6 669.5,628.6 670.5,628.5 671.5,628.5 672.5,628.5 673.5,628.5 674.5,628.4 675.5,628.4 676.5,628.4 677.5,628.4 678.5,628.4 679.5,628.3 680.5,628.3 681.5,628.3 682.5,628.3 683.5,628.2 684.5,628.2 685.5,628.2 686.5,628.2 687.5,628.1 688.5,628.1 689.5,628.1 690.5,628.1 691.5,628.0 692.5,628.0 693.5,628.0 694.5,627.9 695.5,627.9 696.5,627.9 697.5,627.9 698.5,627.8 699.5,627.8 700.5,627.8 701.5,627.8 702.5,627.7 703.5,627.7 704.5,627.7 705.5,627.6 706.5,627.6 707.5,627.6 708.5,627.5 709.5,627.5 710.5,627.4 711.5,627.4 712.5,627.4 713.5,627.3 714.5,627.3 715.5,627.2 716.5,627.2 717.5,627.1 718.5,627.1 719.5,627.1 720.5,627.0 721.5,627.0 722.5,626.9 723.5,626.9 724.5,626.9 725.5,626.8 726.5,626.8 727.5,626.8 728.5,626.7 729.5,626.7 730.5,626.7 731.5,626.6 732.5,626.6 733.5,626.6 734.5,626.5 735.5,626.5 736.5,626.5 737.5,626.5 738.5,626.5 739.5,626.4 740.5,626.4 741.5,626.4 742.5,626.4 743.5,626.3 744.5,626.3 745.5,626.3 746.5,626.3 747.5,626.2 748.5,626.2 749.5,626.2 750.5,626.2 751.5,626.1 752.5,626.1 753.5,626.1 754.5,626.0 755.5,626.0 756.5,626.0 757.5,625.9 758.5,625.9 759.5,625.8 760.5,625.8 761.5,625.7 762.5,625.7 763.5,625.6 764.5,625.6 765.5,625.5 766.5,625.4 767.5,625.4 768.5,625.3 769.5,625.2 770.5,625.1 771.5,625.1 772.5,625.0 773.5,624.9 774.5,624.8 775.5,624.7 776.5,624.6 777.5,624.6 778.5,624.5 779.5,624.4 780.5,624.3 781.5,624.2 782.5,624.1 783.5,624.1 784.5,624.0 785.5,623.9 786.5,623.8 787.5,623.8 788.5,623.7 789.5,623.6 790.5,623.5 791.5,623.5 792.5,623.4 793.5,623.3 794.5,623.3 795.5,623.2 796.5,623.2 797.5,623.1 798.5,623.0 799.5,623.0 800.5,622.9 801.5,622.9 802.5,622.8 803.5,622.7 804.5,622.7 805.5,622.6 806.5,622.5 807.5,622.4 808.5,622.4 809.5,622.3 810.5,622.2 811.5,622.1 812.5,622.0 813.5,621.9 814.5,621.8 815.5,621.7 816.5,621.6 817.5,621.5 818.5,621.4 819.5,621.2 820.5,621.1 821.5,620.9 822.5,620.7 823.5,620.5 824.5,620.3 825.5,620.1 826.5,619.8 827.5,619.6 828.5,619.3 829.5,619.1 830.5,618.7 831.5,618.4 832.5,618.0 833.5,617.6 834.5,617.2 835.5,616.8 836.5,616.3 837.5,615.8 838.5,615.2 839.5,614.6 840.5,614.1 841.5,613.5 842.5,613.0 843.5,612.5 844.5,612.1 845.5,611.7 846.5,611.4 847.5,611.1 848.5,610.8 849.5,610.5 850.5,610.2 851.5,610.0 852.5,609.7 853.5,609.5 854.5,609.3 855.5,609.1 856.5,608.9 857.5,608.8 858.5,608.6 859.5,608.5 860.5,608.4 861.5,608.3 862.5,608.3 863.5,608.2 864.5,608.1 865.5,608.0 866.5,608.0 867.5,607.9 868.5,607.7 869.5,607.6 870.5,607.4 871.5,607.1 872.5,606.6 873.5,606.1 874.5,605.5 875.5,604.8 876.5,604.1 877.5,603.4 878.5,602.7 879.5,602.0 880.5,601.2 881.5,600.4 882.5,599.5 883.5,598.6 884.5,597.7 885.5,596.8 886.5,595.9 887.5,595.0 888.5,594.1 889.5,593.2 890.5,592.3 891.5,591.4 892.5,590.5 893.5,589.7 894.5,589.0 895.5,588.5 896.5,587.9 897.5,587.4 898.5,586.9 899.5,586.5 900.5,586.1 901.5,585.8 902.5,585.6 903.5,585.5 904.5,585.4 905.5,585.2 906.5,585.2 907.5,585.1 908.5,585.0 909.5,585.0 910.5,585.0 911.5,585.1 912.5,585.2 913.5,585.4 914.5,585.7 915.5,585.9 916.5,586.2 917.5,586.5 918.5,586.8 919.5,587.2 920.5,587.6 921.5,588.0 922.5,588.6 923.5,589.1 924.5,589.7 925.5,590.2 926.5,590.8 927.5,591.2 928.5,591.7 929.5,592.2 930.5,592.7 931.5,593.2 932.5,593.7 933.5,594.0 934.5,594.3 935.5,594.5 936.5,594.6 937.5,594.8 938.5,594.9 939.5,595.0 940.5,595.0 941.0,595.0 L941.0,629.3 Z" fill="#c46a68"/>
<polyline points="17.5,623.3 18.5,623.2 19.5,623.1 20.5,623.0 21.5,622.8 22.5,622.6 23.5,622.5 24.5,622.3 25.5,622.0 26.5,621.8 27.5,621.5 28.5,621.2 29.5,620.8 30.5,620.5 31.5,620.1 32.5,619.7 33.5,619.2 34.5,618.6 35.5,618.0 36.5,617.4 37.5,616.7 38.5,616.0 39.5,615.3 40.5,614.6 41.5,613.9 42.5,613.0 43.5,612.1 44.5,611.2 45.5,610.3 46.5,609.5 47.5,608.8 48.5,608.2 49.5,607.6 50.5,607.1 51.5,606.6 52.5,606.2 53.5,605.7 54.5,605.4 55.5,605.0 56.5,604.7 57.5,604.5 58.5,604.3 59.5,604.1 60.5,603.9 61.5,603.8 62.5,603.6 63.5,603.5 64.5,603.4 65.5,603.2 66.5,603.1 67.5,603.0 68.5,602.9 69.5,602.8 70.5,602.7 71.5,602.5 72.5,602.3 73.5,601.9 74.5,601.3 75.5,600.6 76.5,599.8 77.5,599.0 78.5,598.1 79.5,597.1 80.5,595.9 81.5,594.5 82.5,593.0 83.5,591.4 84.5,589.6 85.5,587.7 86.5,585.6 87.5,583.4 88.5,581.3 89.5,579.0 90.5,576.6 91.5,574.2 92.5,571.8 93.5,569.6 94.5,567.4 95.5,565.3 96.5,563.2 97.5,561.4 98.5,559.7 99.5,558.1 100.5,556.7 101.5,555.3 102.5,554.1 103.5,553.1 104.5,552.2 105.5,551.3 106.5,550.4 107.5,549.7 108.5,549.0 109.5,548.5 110.5,548.1 111.5,547.8 112.5,547.6 113.5,547.4 114.5,547.2 115.5,547.0 116.5,546.8 117.5,546.5 118.5,546.2 119.5,545.9 120.5,545.5 121.5,545.1 122.5,544.7 123.5,544.2 124.5,543.6 125.5,543.0 126.5,542.2 127.5,541.3 128.5,540.2 129.5,539.1 130.5,537.9 131.5,536.5 132.5,534.9 133.5,533.1 134.5,531.1 135.5,528.8 136.5,526.0 137.5,522.8 138.5,519.4 139.5,516.1 140.5,513.0 141.5,509.9 142.5,506.9 143.5,503.9 144.5,500.9 145.5,498.1 146.5,495.2 147.5,492.4 148.5,489.6 149.5,487.1 150.5,484.9 151.5,482.7 152.5,480.6 153.5,478.8 154.5,477.3 155.5,476.2 156.5,475.2 157.5,474.4 158.5,473.7 159.5,473.2 160.5,472.8 161.5,472.5 162.5,472.3 163.5,472.1 164.5,471.9 165.5,471.8 166.5,471.7 167.5,471.7 168.5,471.8 169.5,471.9 170.5,472.0 171.5,472.2 172.5,472.3 173.5,472.5 174.5,472.8 175.5,473.2 176.5,473.7 177.5,474.2 178.5,474.8 179.5,475.5 180.5,476.2 181.5,477.0 182.5,478.1 183.5,479.2 184.5,480.5 185.5,481.7 186.5,483.0 187.5,484.4 188.5,485.9 189.5,487.4 190.5,489.0 191.5,490.6 192.5,492.2 193.5,493.6 194.5,495.0 195.5,496.3 196.5,497.7 197.5,498.9 198.5,500.1 199.5,501.2 200.5,502.2 201.5,503.1 202.5,503.9 203.5,504.7 204.5,505.5 205.5,506.1 206.5,506.6 207.5,507.0 208.5,507.4 209.5,507.7 210.5,507.9 211.5,508.2 212.5,508.5 213.5,508.8 214.5,509.0 215.5,509.3 216.5,509.6 217.5,509.9 218.5,510.2 219.5,510.6 220.5,511.1 221.5,511.7 222.5,512.5 223.5,513.4 224.5,514.5 225.5,515.6 226.5,516.9 227.5,518.4 228.5,520.1 229.5,522.0 230.5,524.1 231.5,526.5 232.5,529.2 233.5,532.2 234.5,535.2 235.5,538.2 236.5,541.5 237.5,544.9 238.5,548.3 239.5,551.7 240.5,554.9 241.5,558.0 242.5,561.1 243.5,564.1 244.5,567.0 245.5,569.6 246.5,572.1 247.5,574.4 248.5,576.6 249.5,578.6 250.5,580.4 251.5,582.1 252.5,583.8 253.5,585.3 254.5,586.7 255.5,588.0 256.5,589.2 257.5,590.4 258.5,591.4 259.5,592.4 260.5,593.0 261.5,593.6 262.5,594.1 263.5,594.4 264.5,594.7 265.5,594.7 266.5,594.4 267.5,594.0 268.5,593.5 269.5,592.9 270.5,591.8 271.5,590.4 272.5,588.8 273.5,586.5 274.5,583.5 275.5,579.8 276.5,575.0 277.5,569.1 278.5,563.0 279.5,557.2 280.5,551.1 281.5,544.6 282.5,537.8 283.5,531.2 284.5,525.0 285.5,519.2 286.5,513.8 287.5,508.0 288.5,501.6 289.5,494.3 290.5,484.7 291.5,471.3 292.5,457.0 293.5,442.4 294.5,428.0 295.5,417.0 296.5,408.5 297.5,400.0 298.5,390.2 299.5,380.3 300.5,372.0 301.5,364.6 302.5,357.9 303.5,352.2 304.5,347.2 305.5,342.7 306.5,339.0 307.5,335.8 308.5,333.1 309.5,330.9 310.5,329.2 311.5,327.6 312.5,326.1 313.5,324.9 314.5,324.3 315.5,324.2 316.5,324.3 317.5,324.4 318.5,324.6 319.5,324.9 320.5,325.2 321.5,325.8 322.5,326.6 323.5,327.6 324.5,328.7 325.5,329.8 326.5,331.0 327.5,332.4 328.5,334.0 329.5,335.8 330.5,337.7 331.5,340.0 332.5,342.7 333.5,345.6 334.5,348.5 335.5,351.5 336.5,354.7 337.5,358.1 338.5,361.6 339.5,365.0 340.5,368.4 341.5,371.7 342.5,375.1 343.5,378.4 344.5,381.7 345.5,384.9 346.5,388.1 347.5,391.3 348.5,394.3 349.5,397.0 350.5,399.5 351.5,401.8 352.5,404.0 353.5,405.9 354.5,407.6 355.5,409.0 356.5,410.2 357.5,411.3 358.5,412.3 359.5,413.0 360.5,413.6 361.5,414.0 362.5,414.5 363.5,414.8 364.5,415.0 365.5,415.0 366.5,414.6 367.5,414.0 368.5,413.2 369.5,412.2 370.5,411.1 371.5,409.3 372.5,407.1 373.5,404.4 374.5,401.5 375.5,398.5 376.5,395.0 377.5,391.2 378.5,387.0 379.5,382.4 380.5,377.4 381.5,371.7 382.5,365.4 383.5,358.6 384.5,351.4 385.5,343.5 386.5,335.1 387.5,325.8 388.5,315.7 389.5,305.0 390.5,293.0 391.5,280.7 392.5,270.0 393.5,261.7 394.5,254.2 395.5,245.3 396.5,234.9 397.5,225.0 398.5,216.3 399.5,208.5 400.5,201.8 401.5,196.0 402.5,190.7 403.5,185.7 404.5,180.7 405.5,176.1 406.5,172.3 407.5,169.5 408.5,167.1 409.5,165.1 410.5,163.6 411.5,162.6 412.5,161.6 413.5,160.8 414.5,160.4 415.5,160.3 416.5,160.5 417.5,160.7 418.5,161.1 419.5,161.5 420.5,162.0 421.5,162.7 422.5,163.6 423.5,164.8 424.5,166.0 425.5,167.4 426.5,169.1 427.5,171.0 428.5,173.2 429.5,175.5 430.5,177.9 431.5,180.6 432.5,183.4 433.5,186.5 434.5,189.9 435.5,193.7 436.5,198.2 437.5,202.8 438.5,207.0 439.5,211.0 440.5,214.9 441.5,218.6 442.5,222.1 443.5,225.4 444.5,228.7 445.5,232.1 446.5,236.2 447.5,240.7 448.5,244.3 449.5,246.6 450.5,248.3 451.5,249.8 452.5,251.2 453.5,252.6 454.5,253.9 455.5,254.9 456.5,255.8 457.5,256.6 458.5,257.3 459.5,257.9 460.5,258.4 461.5,258.9 462.5,259.2 463.5,259.6 464.5,259.9 465.5,260.3 466.5,260.7 467.5,261.3 468.5,261.9 469.5,262.6 470.5,263.4 471.5,264.3 472.5,265.4 473.5,266.6 474.5,268.0 475.5,269.6 476.5,271.7 477.5,274.1 478.5,276.8 479.5,279.9 480.5,283.5 481.5,287.4 482.5,291.2 483.5,294.8 484.5,298.4 485.5,302.1 486.5,306.0 487.5,310.4 488.5,315.1 489.5,319.7 490.5,324.2 491.5,328.4 492.5,332.7 493.5,337.5 494.5,343.0 495.5,348.5 496.5,353.0 497.5,357.0 498.5,360.5 499.5,363.6 500.5,366.3 501.5,368.6 502.5,370.8 503.5,372.7 504.5,374.3 505.5,375.7 506.5,376.9 507.5,378.0 508.5,378.9 509.5,379.7 510.5,380.3 511.5,380.6 512.5,381.0 513.5,381.3 514.5,381.7 515.5,382.2 516.5,382.9 517.5,383.7 518.5,384.7 519.5,386.0 520.5,387.9 521.5,390.1 522.5,392.5 523.5,395.2 524.5,398.3 525.5,401.8 526.5,405.7 527.5,410.0 528.5,414.8 529.5,419.9 530.5,424.7 531.5,429.7 532.5,435.4 533.5,441.7 534.5,448.1 535.5,454.8 536.5,461.9 537.5,469.5 538.5,477.0 539.5,485.0 540.5,494.5 541.5,505.0 542.5,516.5 543.5,527.0 544.5,536.2 545.5,543.2 546.5,549.1 547.5,554.2 548.5,558.8 549.5,563.0 550.5,567.0 551.5,570.9 552.5,574.6 553.5,577.8 554.5,580.6 555.5,582.7 556.5,584.8 557.5,586.6 558.5,588.1 559.5,589.0 560.5,589.3 561.5,589.5 562.5,589.7 563.5,589.8 564.5,589.9 565.5,590.0 566.5,590.0 567.5,590.0 568.5,589.9 569.5,589.8 570.5,589.7 571.5,589.6 572.5,589.4 573.5,589.2 574.5,589.0 575.5,588.8 576.5,588.6 577.5,588.4 578.5,588.3 579.5,588.1 580.5,587.9 581.5,587.6 582.5,587.4 583.5,587.1 584.5,586.9 585.5,586.6 586.5,586.3 587.5,586.1 588.5,585.8 589.5,585.5 590.5,585.3 591.5,585.0 592.5,584.8 593.5,584.6 594.5,584.3 595.5,584.1 596.5,583.9 597.5,583.7 598.5,583.4 599.5,583.2 600.5,583.0 601.5,582.8 602.5,582.6 603.5,582.5 604.5,582.3 605.5,582.2 606.5,582.0 607.5,581.9 608.5,581.8 609.5,581.7 610.5,581.5 611.5,581.4 612.5,581.2 613.5,581.1 614.5,581.0 615.5,580.8 616.5,580.7 617.5,580.5 618.5,580.3 619.5,580.1 620.5,579.9 621.5,579.5 622.5,579.1 623.5,578.5 624.5,577.8 625.5,577.0 626.5,575.9 627.5,573.9 628.5,571.0 629.5,567.8 630.5,564.7 631.5,561.5 632.5,558.1 633.5,554.6 634.5,551.1 635.5,547.5 636.5,543.8 637.5,540.0 638.5,536.0 639.5,531.9 640.5,527.8 641.5,524.1 642.5,520.6 643.5,517.2 644.5,514.0 645.5,511.0 646.5,508.1 647.5,505.5 648.5,503.0 649.5,500.9 650.5,498.8 651.5,496.9 652.5,495.3 653.5,494.0 654.5,493.1 655.5,492.3 656.5,491.6 657.5,491.0 658.5,490.5 659.5,490.1 660.5,489.9 661.5,489.7 662.5,489.5 663.5,489.4 664.5,489.3 665.5,489.1 666.5,489.0 667.5,488.8 668.5,488.5 669.5,488.2 670.5,487.8 671.5,487.4 672.5,486.9 673.5,486.4 674.5,485.8 675.5,485.2 676.5,484.4 677.5,483.6 678.5,482.7 679.5,481.7 680.5,480.7 681.5,479.7 682.5,478.5 683.5,477.2 684.5,475.8 685.5,474.2 686.5,472.3 687.5,470.3 688.5,468.1 689.5,466.0 690.5,464.0 691.5,461.8 692.5,459.7 693.5,457.6 694.5,455.8 695.5,454.2 696.5,452.8 697.5,451.4 698.5,450.1 699.5,449.0 700.5,448.0 701.5,447.3 702.5,446.8 703.5,446.3 704.5,445.8 705.5,445.4 706.5,445.1 707.5,444.7 708.5,444.5 709.5,444.2 710.5,444.0 711.5,443.9 712.5,443.7 713.5,443.6 714.5,443.4 715.5,443.2 716.5,442.9 717.5,442.6 718.5,442.3 719.5,441.9 720.5,441.4 721.5,440.9 722.5,440.3 723.5,439.7 724.5,438.9 725.5,437.7 726.5,436.3 727.5,434.7 728.5,432.9 729.5,431.0 730.5,428.8 731.5,426.3 732.5,423.8 733.5,421.0 734.5,418.0 735.5,415.2 736.5,412.9 737.5,410.8 738.5,408.9 739.5,407.0 740.5,404.9 741.5,402.6 742.5,400.3 743.5,398.0 744.5,395.9 745.5,394.1 746.5,392.4 747.5,390.7 748.5,389.3 749.5,388.0 750.5,387.0 751.5,386.2 752.5,385.5 753.5,384.8 754.5,384.3 755.5,383.7 756.5,383.3 757.5,382.8 758.5,382.5 759.5,382.1 760.5,381.9 761.5,381.7 762.5,381.5 763.5,381.3 764.5,381.1 765.5,380.9 766.5,380.7 767.5,380.5 768.5,380.3 769.5,380.1 770.5,379.8 771.5,379.3 772.5,378.8 773.5,378.1 774.5,377.4 775.5,376.6 776.5,375.8 777.5,374.8 778.5,373.8 779.5,372.6 780.5,371.2 781.5,369.7 782.5,368.3 783.5,366.8 784.5,365.2 785.5,363.7 786.5,362.1 787.5,360.4 788.5,358.6 789.5,356.8 790.5,355.1 791.5,353.5 792.5,352.1 793.5,350.9 794.5,349.7 795.5,348.6 796.5,347.6 797.5,346.7 798.5,346.0 799.5,345.3 800.5,344.7 801.5,344.2 802.5,343.7 803.5,343.3 804.5,342.9 805.5,342.5 806.5,342.3 807.5,342.0 808.5,341.8 809.5,341.6 810.5,341.3 811.5,341.0 812.5,340.6 813.5,340.2 814.5,339.7 815.5,339.2 816.5,338.5 817.5,337.6 818.5,336.5 819.5,334.9 820.5,332.8 821.5,329.2 822.5,325.0 823.5,320.2 824.5,315.0 825.5,310.1 826.5,305.0 827.5,299.0 828.5,292.8 829.5,287.7 830.5,283.6 831.5,278.5 832.5,270.7 833.5,263.9 834.5,258.3 835.5,251.1 836.5,242.0 837.5,232.4 838.5,222.5 839.5,212.5 840.5,202.5 841.5,192.4 842.5,181.7 843.5,172.0 844.5,164.9 845.5,159.2 846.5,153.5 847.5,147.5 848.5,141.8 849.5,137.1 850.5,133.3 851.5,130.0 852.5,127.5 853.5,125.6 854.5,123.9 855.5,122.6 856.5,121.7 857.5,121.0 858.5,120.5 859.5,120.0 860.5,119.6 861.5,119.3 862.5,119.1 863.5,118.9 864.5,118.7 865.5,118.5 866.5,118.3 867.5,118.1 868.5,117.9 869.5,117.6 870.5,117.3 871.5,117.0 872.5,116.7 873.5,116.3 874.5,115.9 875.5,115.4 876.5,114.9 877.5,114.2 878.5,113.6 879.5,112.9 880.5,112.1 881.5,111.3 882.5,110.4 883.5,109.5 884.5,108.5 885.5,107.6 886.5,106.7 887.5,105.7 888.5,104.8 889.5,103.8 890.5,102.9 891.5,102.0 892.5,101.2 893.5,100.5 894.5,99.9 895.5,99.2 896.5,98.6 897.5,98.1 898.5,97.6 899.5,97.2 900.5,96.8 901.5,96.5 902.5,96.2 903.5,95.9 904.5,95.7 905.5,95.5 906.5,95.3 907.5,95.1 908.5,95.0 909.5,94.8 910.5,94.8 911.5,94.8 912.5,94.9 913.5,95.2 914.5,95.7 915.5,98.1 916.5,102.6 917.5,110.7 918.5,120.0 919.5,130.0 920.5,140.1 921.5,150.2 922.5,159.4 923.5,167.7 924.5,176.3 925.5,185.2 926.5,195.1 927.5,206.1 928.5,218.2 929.5,231.3 930.5,245.1 931.5,258.0 932.5,265.8 933.5,272.1 934.5,279.2 935.5,286.2 936.5,290.9 937.5,294.0 938.5,296.0 939.5,296.9 940.5,297.4 941.0,297.5 941.0,628.8" fill="none" stroke="#302040" stroke-opacity="0.22" stroke-width="1" stroke-linejoin="round"/>
</g>
<!-- y labels -->
<g class="k2" font-size="17" fill="#333" text-anchor="end">
<text x="14.5" y="632.5">0</text>
<text x="14.5" y="514.2">2</text>
<text x="14.5" y="399.8">4</text>
<text x="14.5" y="286.2">6</text>
<text x="14.5" y="168.5">8</text>
</g>
<!-- x labels -->
<g class="k" font-size="18.3" fill="#222" text-anchor="middle">
<text x="72.3" y="649.8">1840</text>
<text x="172" y="649.8">1860</text>
<text x="271.8" y="649.8">1880</text>
<text x="371" y="649.8">1900</text>
<text x="470" y="649.8">1920</text>
<text x="569.7" y="649.8">1940</text>
<text x="668.4" y="649.8">1960</text>
<text x="767.7" y="649.8">1980</text>
<text x="866.8" y="649.8">2000</text>
</g>
<text class="k" x="904" y="649.8" font-size="18.3" fill="#222" textLength="49.5" lengthAdjust="spacingAndGlyphs">2015*</text>
<text class="k" x="171.8" y="675" font-size="18" fill="#222" textLength="582" lengthAdjust="spacingAndGlyphs">Năm (cao độ cuối thập kỷ đại diện số người nhập cư trong thập kỷ đó)</text>
<text class="k2" x="15.6" y="700.8" font-size="13" fill="#333" textLength="187.4" lengthAdjust="spacingAndGlyphs">Nguồn: Bộ An ninh Nội địa Mỹ</text>
<text class="k2" x="335" y="700.8" font-size="13" fill="#333" textLength="317.7" lengthAdjust="spacingAndGlyphs">*Không phải cả thập kỷ, nghĩa là tính số năm ít hơn</text>
<!-- annotations -->
<g class="k" font-size="17.5" fill="#222">
<text x="124.2" y="463.5" textLength="67.3" lengthAdjust="spacingAndGlyphs">2,7 triệu</text>
<text x="388" y="151.8" textLength="67.8" lengthAdjust="spacingAndGlyphs">8,1 triệu</text>
<text x="561" y="578.4" textLength="67.5" lengthAdjust="spacingAndGlyphs">0,7 triệu</text>
<text x="864.6" y="85" textLength="67.2" lengthAdjust="spacingAndGlyphs">9,2 triệu</text>
</g>
<!-- legend -->
<g>
<rect x="57.2" y="125.5" width="297.3" height="168.5" rx="4" fill="#fff" filter="url(#sh)"/>
<rect x="64" y="134.2" width="17" height="17" rx="3.5" fill="#c6a568" stroke="#c6a568" stroke-width="0.9"/>
<text x="87.5" y="149.7" font-size="18" fill="#222" class="k" textLength="59.0" lengthAdjust="spacingAndGlyphs">Châu Á</text>
<rect x="64" y="166.7" width="17" height="17" rx="3.5" fill="#62c164" stroke="#62c164" stroke-width="0.9"/>
<text x="87.5" y="182.2" font-size="18" fill="#222" class="k" textLength="53.8" lengthAdjust="spacingAndGlyphs">Caribe</text>
<rect x="64" y="199.3" width="17" height="17" rx="3.5" fill="#64c0a1" stroke="#64c0a1" stroke-width="0.9"/>
<text x="87.5" y="214.8" font-size="18" fill="#222" class="k" textLength="78.7" lengthAdjust="spacingAndGlyphs">Trung Mỹ</text>
<rect x="64" y="232.0" width="17" height="17" rx="3.5" fill="#c364a4" stroke="#c364a4" stroke-width="0.9"/>
<text x="87.5" y="247.5" font-size="18" fill="#222" class="k" textLength="69.4" lengthAdjust="spacingAndGlyphs">Nam Mỹ</text>
<rect x="64" y="264.4" width="17" height="17" rx="3.5" fill="#65a1c4" stroke="#65a1c4" stroke-width="0.9"/>
<text x="87.5" y="279.9" font-size="18" fill="#222" class="k" textLength="187.2" lengthAdjust="spacingAndGlyphs">Châu Âu (gồm cả Nga)</text>
<rect x="180.8" y="134.8" width="17" height="17" rx="3.5" fill="#c9645f" stroke="#c9645f" stroke-width="0.9"/>
<text x="204.2" y="150.3" font-size="18" fill="#222" class="k" textLength="74.6" lengthAdjust="spacingAndGlyphs">Châu Phi</text>
<rect x="180.8" y="167.3" width="17" height="17" rx="3.5" fill="#9f5dbf" stroke="#9f5dbf" stroke-width="0.9"/>
<text x="204.2" y="182.8" font-size="18" fill="#222" class="k" textLength="138.1" lengthAdjust="spacingAndGlyphs">Châu Đại Dương</text>
<rect x="180.8" y="199.9" width="17" height="17" rx="3.5" fill="#a2c166" stroke="#a2c166" stroke-width="0.9"/>
<text x="204.2" y="215.4" font-size="18" fill="#222" class="k" textLength="62.5" lengthAdjust="spacingAndGlyphs">Canada</text>
<rect x="180.8" y="232.6" width="17" height="17" rx="3.5" fill="#6866b3" stroke="#6866b3" stroke-width="0.9"/>
<text x="204.2" y="248.1" font-size="18" fill="#222" class="k" textLength="61.1" lengthAdjust="spacingAndGlyphs">Mexico</text>
</g>
<!-- logo -->
<g>
<circle cx="783.2" cy="701.2" r="6.3" fill="none" stroke="#707070" stroke-width="1.6"/>
<text x="783.3" y="705.3" font-size="11" font-weight="bold" fill="#707070" text-anchor="middle">C</text>
<rect x="794.5" y="700" width="7" height="2.6" fill="#2574b8" transform="skewX(-20)" transform-origin="797 701"/>
<text x="798" y="706.6" font-size="18" font-weight="bold" font-style="italic" fill="#2574b8" stroke="#2574b8" stroke-width="1.1" textLength="41.5" lengthAdjust="spacingAndGlyphs">AFP</text>
<rect x="846.2" y="691" width="101.9" height="18.6" fill="#b01f27"/>
<text x="848.3" y="706.5" font-size="17" font-weight="bold" fill="url(#vg)" textLength="84.5" lengthAdjust="spacingAndGlyphs">Vietnam</text>
<path d="M937.3 692.3 L940.1 692.3 L939.4 706.6 L936.6 706.6 Z M933.2 699.6 L946.2 697.2 L946.2 699.6 L933.2 702 Z" fill="#fbe3e3"/>
</g>
</svg>
</body>
</html>
